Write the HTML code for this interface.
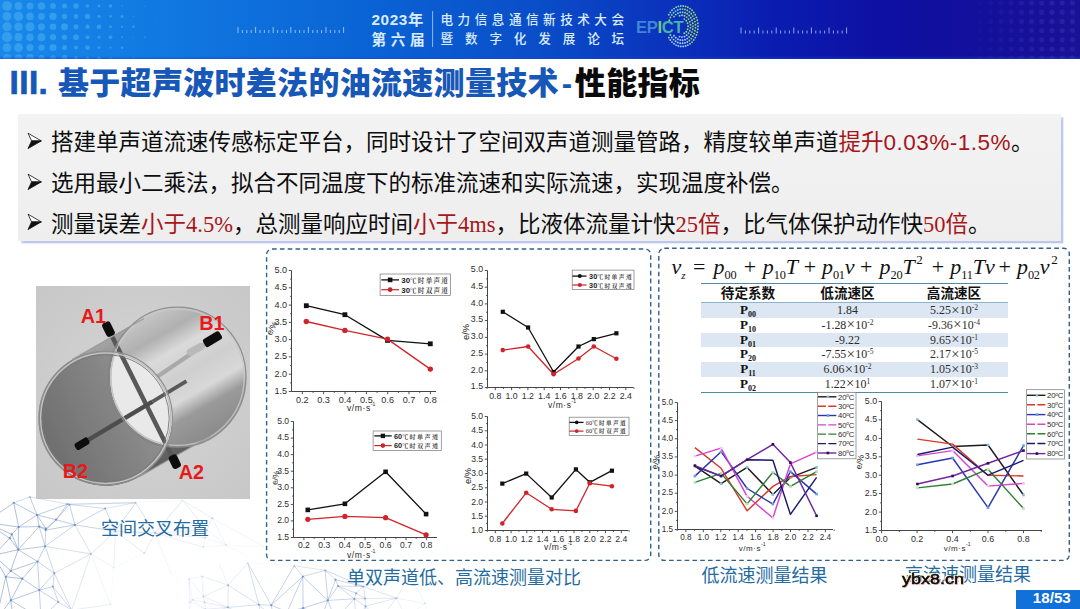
<!DOCTYPE html>
<html lang="zh-CN"><head><meta charset="utf-8"><title>III. 基于超声波时差法的油流速测量技术-性能指标</title>
<style>
html,body{margin:0;padding:0}
body{width:1080px;height:609px;overflow:hidden;background:#fff;position:relative;font-family:"Liberation Sans","Noto Sans CJK SC",sans-serif;color:#111}
.abs{position:absolute;white-space:nowrap}
#hdr{left:0;top:0;width:1080px;height:58.6px;background:linear-gradient(90deg,#1888ea 0,#1179e1 15%,#0a62d4 35%,#0a4dc8 50%,#0a32bc 62%,#0a1cb0 72%,#0e10a2 82%,#14109a 92%,#1a1294 100%)}
#hdr:after{content:"";position:absolute;left:0;right:0;bottom:0;height:3px;background:linear-gradient(180deg,rgba(20,60,200,0),rgba(20,70,210,.55))}
.ht{color:#d9ecff;font-weight:bold}
#title{left:9.5px;top:61.4px;font-size:31px;line-height:46px;font-weight:900;color:#1757b7;letter-spacing:0.3px}
#title u{text-decoration:none;letter-spacing:0.45px;font-size:33.3px;line-height:0;-webkit-text-stroke:0.7px #1757b7}
#title em{font-style:normal;display:inline-block;width:16px;text-align:center;letter-spacing:0}
#title b{color:#0a0a0a;font-weight:900}
#box{left:18px;top:114px;width:1043px;height:127px;background:linear-gradient(180deg,#f3f3f4,#eeeeef);box-shadow:2.5px 2.5px 1.5px #bcc6ee}
.ln{left:51px;font-size:22.5px;line-height:30px;color:#0d0d0d}
.ln u{text-decoration:none;letter-spacing:0.5px}
.ln i{font-style:normal;color:#a81519}
.ln .tr{font-family:"Liberation Serif","Noto Serif CJK SC",serif}
.cap{font-size:18px;line-height:22px;color:#256b9f;font-weight:400}
.dash{border:1.5px dashed #2d5a80;border-radius:6px;box-sizing:border-box}
table{border-collapse:collapse}
#tbl{left:701px;top:283px;width:307px;border-top:1.3px solid #4f8da6;border-bottom:1.3px solid #4f8da6}
#tbl th{font-size:13.6px;font-weight:bold;height:16px;line-height:16px;padding:2px 0 0 0;color:#111;border-bottom:1px solid #8db4cc}
#tbl td{font-family:"Liberation Serif","Noto Serif CJK SC",serif;font-size:11.9px;height:14.75px;line-height:14.75px;padding:0;text-align:center;color:#2b2b2b}
#tbl td.p{font-weight:bold;font-size:13px;color:#111}
#tbl td sub{font-size:8px;vertical-align:-3px;line-height:0}
#tbl td sup{font-size:7.5px;vertical-align:4px;line-height:0}
#tbl tr.s td{background:#dde7f3}
#tbl q{quotes:none;font-size:14.5px;line-height:0;padding:0 0.4px;position:relative;top:0.6px}
#tbl q:before,#tbl q:after{content:none}
#fm span{font-family:"Liberation Serif","Noto Serif CJK SC",serif;font-style:italic;font-size:22px;line-height:28px;color:#111}
#fm s{text-decoration:none;font-style:normal}
#fm sub{font-style:normal;font-size:12.3px;vertical-align:-4.5px;line-height:0;letter-spacing:-0.2px}
#fm sub.z{font-style:italic;font-size:11px}
#fm sup{font-style:normal;font-size:13px;vertical-align:10px;line-height:0;margin-left:1.6px}
</style></head><body>
<svg class="abs" style="left:0;top:0" width="1080" height="609" viewBox="0 0 1080 609"><g stroke="#7b97c4" stroke-width="0.75" fill="none"><path d="M113.9 567.8L110.6 604.5" stroke-opacity="0.06"/><path d="M113.9 567.8L115.3 531.2" stroke-opacity="0.21"/><path d="M113.9 567.8L144.4 553.2" stroke-opacity="0.07"/><path d="M113.9 567.8L90.9 553.9" stroke-opacity="0.14"/><path d="M248.4 555.5L226.3 545.2" stroke-opacity="0.05"/><path d="M129.7 571.4L144.4 553.2" stroke-opacity="0.04"/><path d="M37.6 561.5L39.3 590.1" stroke-opacity="0.63"/><path d="M37.6 561.5L22.3 578.7" stroke-opacity="0.69"/><path d="M37.6 561.5L18.2 549.7" stroke-opacity="0.71"/><path d="M37.6 561.5L45.1 546.3" stroke-opacity="0.61"/><path d="M37.6 561.5L10.7 570.8" stroke-opacity="0.74"/><path d="M37.6 561.5L54.3 573.2" stroke-opacity="0.57"/><path d="M11.8 534.4L-14.8 522.3" stroke-opacity="0.80"/><path d="M11.8 534.4L9.8 538.2" stroke-opacity="0.80"/><path d="M11.8 534.4L18.6 527" stroke-opacity="0.80"/><path d="M11.8 534.4L18.2 549.7" stroke-opacity="0.80"/><path d="M10.8 600.3L5.8 576.8" stroke-opacity="0.80"/><path d="M10.8 600.3L39.3 590.1" stroke-opacity="0.73"/><path d="M10.8 600.3L22.3 578.7" stroke-opacity="0.79"/><path d="M10.8 600.3L13.6 623.6" stroke-opacity="0.80"/><path d="M10.8 600.3L41 618.5" stroke-opacity="0.72"/><path d="M10.8 600.3L-4 620.1" stroke-opacity="0.80"/><path d="M182.6 500.4L135.6 502.7" stroke-opacity="0.09"/><path d="M182.6 500.4L206.9 530.1" stroke-opacity="0.25"/><path d="M182.6 500.4L212.2 518.1" stroke-opacity="0.22"/><path d="M182.6 500.4L155 533.1" stroke-opacity="0.33"/><path d="M171.4 575L203.4 547.1" stroke-opacity="0.04"/><path d="M171.4 575L155 533.1" stroke-opacity="0.11"/><path d="M29.9 497L67.4 504.1" stroke-opacity="0.39"/><path d="M29.9 497L13.8 502.8" stroke-opacity="0.45"/><path d="M29.9 497L37.1 515" stroke-opacity="0.61"/><path d="M135.6 502.7L115.3 531.2" stroke-opacity="0.46"/><path d="M135.6 502.7L67.4 504.1" stroke-opacity="0.32"/><path d="M135.6 502.7L69.5 504.5" stroke-opacity="0.33"/><path d="M135.6 502.7L105.1 508.5" stroke-opacity="0.34"/><path d="M135.6 502.7L155 533.1" stroke-opacity="0.40"/><path d="M39.2 526.5L18.6 527" stroke-opacity="0.75"/><path d="M39.2 526.5L18.2 549.7" stroke-opacity="0.70"/><path d="M39.2 526.5L45.7 530.1" stroke-opacity="0.71"/><path d="M39.2 526.5L45.1 546.3" stroke-opacity="0.60"/><path d="M39.2 526.5L45.8 528.6" stroke-opacity="0.71"/><path d="M39.2 526.5L37.1 515" stroke-opacity="0.72"/><path d="M-6.4 555.3L-14.8 522.3" stroke-opacity="0.80"/><path d="M-6.4 555.3L5.8 576.8" stroke-opacity="0.80"/><path d="M-6.4 555.3L9.8 538.2" stroke-opacity="0.80"/><path d="M-6.4 555.3L18.2 549.7" stroke-opacity="0.80"/><path d="M-6.4 555.3L10.7 570.8" stroke-opacity="0.80"/><path d="M-6.4 555.3L-4 620.1" stroke-opacity="0.80"/><path d="M110.6 604.5L71.7 610" stroke-opacity="0.23"/><path d="M110.6 604.5L90.9 553.9" stroke-opacity="0.15"/><path d="M115.3 531.2L74.9 524.9" stroke-opacity="0.55"/><path d="M115.3 531.2L144.4 553.2" stroke-opacity="0.28"/><path d="M115.3 531.2L90.9 553.9" stroke-opacity="0.33"/><path d="M115.3 531.2L105.1 508.5" stroke-opacity="0.51"/><path d="M115.3 531.2L155 533.1" stroke-opacity="0.38"/><path d="M74.9 524.9L45.7 530.1" stroke-opacity="0.66"/><path d="M74.9 524.9L45.1 546.3" stroke-opacity="0.53"/><path d="M74.9 524.9L69.5 504.5" stroke-opacity="0.62"/><path d="M74.9 524.9L90.9 553.9" stroke-opacity="0.41"/><path d="M74.9 524.9L56.1 519.7" stroke-opacity="0.64"/><path d="M74.9 524.9L105.1 508.5" stroke-opacity="0.57"/><path d="M67.4 504.1L69.5 504.5" stroke-opacity="0.45"/><path d="M67.4 504.1L37.1 515" stroke-opacity="0.67"/><path d="M67.4 504.1L56.1 519.7" stroke-opacity="0.65"/><path d="M203.4 547.1L226.3 545.2" stroke-opacity="0.10"/><path d="M203.4 547.1L205.2 537.8" stroke-opacity="0.14"/><path d="M203.4 547.1L155 533.1" stroke-opacity="0.20"/><path d="M226.3 545.2L244.4 556.1" stroke-opacity="0.05"/><path d="M226.3 545.2L264.4 546.7" stroke-opacity="0.05"/><path d="M226.3 545.2L206.9 530.1" stroke-opacity="0.14"/><path d="M226.3 545.2L212.2 518.1" stroke-opacity="0.16"/><path d="M226.3 545.2L205.2 537.8" stroke-opacity="0.12"/><path d="M-14.8 522.3L9.8 538.2" stroke-opacity="0.80"/><path d="M-14.8 522.3L18.6 527" stroke-opacity="0.80"/><path d="M-14.8 522.3L13.8 502.8" stroke-opacity="0.80"/><path d="M264.4 546.7L212.2 518.1" stroke-opacity="0.11"/><path d="M5.8 576.8L22.3 578.7" stroke-opacity="0.80"/><path d="M5.8 576.8L10.7 570.8" stroke-opacity="0.80"/><path d="M5.8 576.8L-4 620.1" stroke-opacity="0.80"/><path d="M206.9 530.1L212.2 518.1" stroke-opacity="0.21"/><path d="M206.9 530.1L205.2 537.8" stroke-opacity="0.18"/><path d="M206.9 530.1L155 533.1" stroke-opacity="0.27"/><path d="M9.8 538.2L18.2 549.7" stroke-opacity="0.80"/><path d="M18.6 527L13.8 502.8" stroke-opacity="0.80"/><path d="M18.6 527L18.2 549.7" stroke-opacity="0.78"/><path d="M18.6 527L37.1 515" stroke-opacity="0.76"/><path d="M13.8 502.8L37.1 515" stroke-opacity="0.73"/><path d="M144.4 553.2L155 533.1" stroke-opacity="0.23"/><path d="M39.3 590.1L22.3 578.7" stroke-opacity="0.69"/><path d="M39.3 590.1L54.3 573.2" stroke-opacity="0.56"/><path d="M39.3 590.1L41 618.5" stroke-opacity="0.61"/><path d="M39.3 590.1L52.9 586.6" stroke-opacity="0.57"/><path d="M39.3 590.1L58.2 602.1" stroke-opacity="0.55"/><path d="M22.3 578.7L10.7 570.8" stroke-opacity="0.79"/><path d="M18.2 549.7L45.1 546.3" stroke-opacity="0.68"/><path d="M18.2 549.7L10.7 570.8" stroke-opacity="0.80"/><path d="M45.7 530.1L45.1 546.3" stroke-opacity="0.57"/><path d="M45.7 530.1L45.8 528.6" stroke-opacity="0.68"/><path d="M45.7 530.1L56.1 519.7" stroke-opacity="0.69"/><path d="M71.7 610L54.3 573.2" stroke-opacity="0.44"/><path d="M71.7 610L90.9 553.9" stroke-opacity="0.30"/><path d="M71.7 610L41 618.5" stroke-opacity="0.49"/><path d="M71.7 610L52.9 586.6" stroke-opacity="0.45"/><path d="M71.7 610L58.2 602.1" stroke-opacity="0.43"/><path d="M45.1 546.3L54.3 573.2" stroke-opacity="0.54"/><path d="M45.1 546.3L90.9 553.9" stroke-opacity="0.40"/><path d="M13.6 623.6L41 618.5" stroke-opacity="0.71"/><path d="M13.6 623.6L-4 620.1" stroke-opacity="0.80"/><path d="M45.8 528.6L37.1 515" stroke-opacity="0.71"/><path d="M45.8 528.6L56.1 519.7" stroke-opacity="0.69"/><path d="M205.2 537.8L155 533.1" stroke-opacity="0.24"/><path d="M69.5 504.5L56.1 519.7" stroke-opacity="0.65"/><path d="M69.5 504.5L105.1 508.5" stroke-opacity="0.47"/><path d="M54.3 573.2L90.9 553.9" stroke-opacity="0.37"/><path d="M54.3 573.2L52.9 586.6" stroke-opacity="0.51"/><path d="M37.1 515L56.1 519.7" stroke-opacity="0.70"/><path d="M41 618.5L58.2 602.1" stroke-opacity="0.54"/><path d="M52.9 586.6L58.2 602.1" stroke-opacity="0.50"/><circle cx="113.9" cy="567.8" r="1.1" fill="#5f86c0" fill-opacity="0.07" stroke="none"/><circle cx="37.6" cy="561.5" r="1.1" fill="#5f86c0" fill-opacity="0.82" stroke="none"/><circle cx="11.8" cy="534.4" r="1.1" fill="#5f86c0" fill-opacity="0.90" stroke="none"/><circle cx="10.8" cy="600.3" r="1.1" fill="#5f86c0" fill-opacity="0.90" stroke="none"/><circle cx="29.9" cy="497" r="1.1" fill="#5f86c0" fill-opacity="0.43" stroke="none"/><circle cx="135.6" cy="502.7" r="1.1" fill="#5f86c0" fill-opacity="0.26" stroke="none"/><circle cx="39.2" cy="526.5" r="1.1" fill="#5f86c0" fill-opacity="0.90" stroke="none"/><circle cx="-6.4" cy="555.3" r="1.1" fill="#5f86c0" fill-opacity="0.90" stroke="none"/><circle cx="110.6" cy="604.5" r="1.1" fill="#5f86c0" fill-opacity="0.10" stroke="none"/><circle cx="115.3" cy="531.2" r="1.1" fill="#5f86c0" fill-opacity="0.59" stroke="none"/><circle cx="74.9" cy="524.9" r="1.1" fill="#5f86c0" fill-opacity="0.80" stroke="none"/><circle cx="67.4" cy="504.1" r="1.1" fill="#5f86c0" fill-opacity="0.58" stroke="none"/><circle cx="203.4" cy="547.1" r="1.1" fill="#5f86c0" fill-opacity="0.15" stroke="none"/><circle cx="226.3" cy="545.2" r="1.1" fill="#5f86c0" fill-opacity="0.11" stroke="none"/><circle cx="-14.8" cy="522.3" r="1.1" fill="#5f86c0" fill-opacity="0.90" stroke="none"/><circle cx="5.8" cy="576.8" r="1.1" fill="#5f86c0" fill-opacity="0.90" stroke="none"/><circle cx="206.9" cy="530.1" r="1.1" fill="#5f86c0" fill-opacity="0.26" stroke="none"/><circle cx="9.8" cy="538.2" r="1.1" fill="#5f86c0" fill-opacity="0.90" stroke="none"/><circle cx="18.6" cy="527" r="1.1" fill="#5f86c0" fill-opacity="0.90" stroke="none"/><circle cx="13.8" cy="502.8" r="1.1" fill="#5f86c0" fill-opacity="0.76" stroke="none"/><circle cx="212.2" cy="518.1" r="1.1" fill="#5f86c0" fill-opacity="0.26" stroke="none"/><circle cx="144.4" cy="553.2" r="1.1" fill="#5f86c0" fill-opacity="0.18" stroke="none"/><circle cx="39.3" cy="590.1" r="1.1" fill="#5f86c0" fill-opacity="0.81" stroke="none"/><circle cx="22.3" cy="578.7" r="1.1" fill="#5f86c0" fill-opacity="0.90" stroke="none"/><circle cx="18.2" cy="549.7" r="1.1" fill="#5f86c0" fill-opacity="0.90" stroke="none"/><circle cx="45.7" cy="530.1" r="1.1" fill="#5f86c0" fill-opacity="0.86" stroke="none"/><circle cx="71.7" cy="610" r="1.1" fill="#5f86c0" fill-opacity="0.49" stroke="none"/><circle cx="45.1" cy="546.3" r="1.1" fill="#5f86c0" fill-opacity="0.75" stroke="none"/><circle cx="13.6" cy="623.6" r="1.1" fill="#5f86c0" fill-opacity="0.90" stroke="none"/><circle cx="45.8" cy="528.6" r="1.1" fill="#5f86c0" fill-opacity="0.90" stroke="none"/><circle cx="205.2" cy="537.8" r="1.1" fill="#5f86c0" fill-opacity="0.21" stroke="none"/><circle cx="69.5" cy="504.5" r="1.1" fill="#5f86c0" fill-opacity="0.59" stroke="none"/><circle cx="10.7" cy="570.8" r="1.1" fill="#5f86c0" fill-opacity="0.90" stroke="none"/><circle cx="54.3" cy="573.2" r="1.1" fill="#5f86c0" fill-opacity="0.66" stroke="none"/><circle cx="90.9" cy="553.9" r="1.1" fill="#5f86c0" fill-opacity="0.30" stroke="none"/><circle cx="37.1" cy="515" r="1.1" fill="#5f86c0" fill-opacity="0.90" stroke="none"/><circle cx="56.1" cy="519.7" r="1.1" fill="#5f86c0" fill-opacity="0.87" stroke="none"/><circle cx="41" cy="618.5" r="1.1" fill="#5f86c0" fill-opacity="0.79" stroke="none"/><circle cx="105.1" cy="508.5" r="1.1" fill="#5f86c0" fill-opacity="0.62" stroke="none"/><circle cx="-4" cy="620.1" r="1.1" fill="#5f86c0" fill-opacity="0.90" stroke="none"/><circle cx="52.9" cy="586.6" r="1.1" fill="#5f86c0" fill-opacity="0.67" stroke="none"/><circle cx="58.2" cy="602.1" r="1.1" fill="#5f86c0" fill-opacity="0.62" stroke="none"/><circle cx="155" cy="533.1" r="1.1" fill="#5f86c0" fill-opacity="0.42" stroke="none"/><path d="M228 607.4L228.2 585.2" stroke-opacity="0.31"/><path d="M228 607.4L189.4 619.3" stroke-opacity="0.21"/><path d="M228 607.4L263.1 625" stroke-opacity="0.39"/><path d="M228 607.4L203.4 596.4" stroke-opacity="0.24"/><path d="M228 607.4L204.6 602.3" stroke-opacity="0.25"/><path d="M228 607.4L205.5 609.3" stroke-opacity="0.25"/><path d="M228 607.4L258.8 604.7" stroke-opacity="0.38"/><path d="M201.9 576.4L189.1 579" stroke-opacity="0.13"/><path d="M201.9 576.4L228.2 585.2" stroke-opacity="0.24"/><path d="M201.9 576.4L203.4 596.4" stroke-opacity="0.18"/><path d="M322 615.7L303.1 608" stroke-opacity="0.60"/><path d="M322 615.7L327.8 600.4" stroke-opacity="0.59"/><path d="M322 615.7L292.9 614.8" stroke-opacity="0.60"/><path d="M322 615.7L335.6 620" stroke-opacity="0.57"/><path d="M335.5 579.7L325.2 570.3" stroke-opacity="0.46"/><path d="M335.5 579.7L338.1 586.1" stroke-opacity="0.53"/><path d="M335.5 579.7L327.8 600.4" stroke-opacity="0.56"/><path d="M335.5 579.7L363.4 586.5" stroke-opacity="0.47"/><path d="M409.8 574.9L425.2 603.4" stroke-opacity="0.13"/><path d="M409.8 574.9L396.6 598.1" stroke-opacity="0.20"/><path d="M409.8 574.9L363.4 586.5" stroke-opacity="0.28"/><path d="M189.1 579L189.4 619.3" stroke-opacity="0.11"/><path d="M189.1 579L190.2 602.1" stroke-opacity="0.11"/><path d="M189.1 579L203.4 596.4" stroke-opacity="0.15"/><path d="M189.1 579L192.3 599.9" stroke-opacity="0.12"/><path d="M294.2 565.8L325.2 570.3" stroke-opacity="0.33"/><path d="M294.2 565.8L271.2 605.2" stroke-opacity="0.58"/><path d="M294.2 565.8L302.8 576.5" stroke-opacity="0.43"/><path d="M294.2 565.8L247.7 562.7" stroke-opacity="0.06"/><path d="M228.2 585.2L219.4 564.2" stroke-opacity="0.17"/><path d="M228.2 585.2L203.4 596.4" stroke-opacity="0.24"/><path d="M228.2 585.2L247.7 562.7" stroke-opacity="0.22"/><path d="M228.2 585.2L258.8 604.7" stroke-opacity="0.38"/><path d="M325.2 570.3L327.8 600.4" stroke-opacity="0.58"/><path d="M325.2 570.3L363.4 586.5" stroke-opacity="0.49"/><path d="M325.2 570.3L302.8 576.5" stroke-opacity="0.49"/><path d="M273.7 618.1L263.1 625" stroke-opacity="0.51"/><path d="M273.7 618.1L271.2 605.2" stroke-opacity="0.53"/><path d="M273.7 618.1L287.2 611.8" stroke-opacity="0.57"/><path d="M273.7 618.1L292.9 614.8" stroke-opacity="0.58"/><path d="M273.7 618.1L258.8 604.7" stroke-opacity="0.50"/><path d="M425.2 603.4L405.7 616.9" stroke-opacity="0.14"/><path d="M425.2 603.4L396.6 598.1" stroke-opacity="0.16"/><path d="M425.2 603.4L428.4 617.4" stroke-opacity="0.08"/><path d="M354.3 598.8L356.7 622.7" stroke-opacity="0.44"/><path d="M354.3 598.8L365.6 606.3" stroke-opacity="0.42"/><path d="M354.3 598.8L338.1 586.1" stroke-opacity="0.48"/><path d="M354.3 598.8L327.8 600.4" stroke-opacity="0.51"/><path d="M354.3 598.8L365.1 598.6" stroke-opacity="0.42"/><path d="M354.3 598.8L356.1 593.3" stroke-opacity="0.44"/><path d="M354.3 598.8L335.6 620" stroke-opacity="0.49"/><path d="M189.4 619.3L190.2 602.1" stroke-opacity="0.11"/><path d="M189.4 619.3L205.5 609.3" stroke-opacity="0.15"/><path d="M356.7 622.7L365.6 618.7" stroke-opacity="0.41"/><path d="M356.7 622.7L365.6 606.3" stroke-opacity="0.41"/><path d="M356.7 622.7L379.4 619.6" stroke-opacity="0.37"/><path d="M356.7 622.7L335.6 620" stroke-opacity="0.48"/><path d="M190.2 602.1L205.5 609.3" stroke-opacity="0.15"/><path d="M190.2 602.1L192.3 599.9" stroke-opacity="0.12"/><path d="M303.1 608L287.2 611.8" stroke-opacity="0.60"/><path d="M303.1 608L327.8 600.4" stroke-opacity="0.60"/><path d="M303.1 608L292.9 614.8" stroke-opacity="0.60"/><path d="M303.1 608L302.8 576.5" stroke-opacity="0.60"/><path d="M263.1 625L292.9 614.8" stroke-opacity="0.56"/><path d="M263.1 625L258.8 604.7" stroke-opacity="0.47"/><path d="M203.4 596.4L204.6 602.3" stroke-opacity="0.19"/><path d="M203.4 596.4L192.3 599.9" stroke-opacity="0.15"/><path d="M365.6 618.7L365.6 606.3" stroke-opacity="0.39"/><path d="M365.6 618.7L379.4 619.6" stroke-opacity="0.35"/><path d="M365.6 606.3L379.4 619.6" stroke-opacity="0.35"/><path d="M365.6 606.3L396.6 598.1" stroke-opacity="0.31"/><path d="M365.6 606.3L365.1 598.6" stroke-opacity="0.39"/><path d="M379.4 619.6L405.7 616.9" stroke-opacity="0.25"/><path d="M379.4 619.6L396.6 598.1" stroke-opacity="0.28"/><path d="M379.4 619.6L428.4 617.4" stroke-opacity="0.20"/><path d="M271.2 605.2L287.2 611.8" stroke-opacity="0.56"/><path d="M271.2 605.2L302.8 576.5" stroke-opacity="0.60"/><path d="M271.2 605.2L247.7 562.7" stroke-opacity="0.46"/><path d="M271.2 605.2L258.8 604.7" stroke-opacity="0.49"/><path d="M405.7 616.9L396.6 598.1" stroke-opacity="0.21"/><path d="M405.7 616.9L428.4 617.4" stroke-opacity="0.13"/><path d="M287.2 611.8L292.9 614.8" stroke-opacity="0.60"/><path d="M287.2 611.8L302.8 576.5" stroke-opacity="0.60"/><path d="M396.6 598.1L363.4 586.5" stroke-opacity="0.32"/><path d="M396.6 598.1L365.1 598.6" stroke-opacity="0.31"/><path d="M338.1 586.1L327.8 600.4" stroke-opacity="0.55"/><path d="M338.1 586.1L363.4 586.5" stroke-opacity="0.46"/><path d="M338.1 586.1L356.1 593.3" stroke-opacity="0.48"/><path d="M327.8 600.4L302.8 576.5" stroke-opacity="0.60"/><path d="M327.8 600.4L335.6 620" stroke-opacity="0.56"/><path d="M204.6 602.3L205.5 609.3" stroke-opacity="0.19"/><path d="M204.6 602.3L192.3 599.9" stroke-opacity="0.16"/><path d="M363.4 586.5L365.1 598.6" stroke-opacity="0.39"/><path d="M363.4 586.5L356.1 593.3" stroke-opacity="0.42"/><path d="M365.1 598.6L356.1 593.3" stroke-opacity="0.41"/><path d="M292.9 614.8L335.6 620" stroke-opacity="0.60"/><path d="M205.5 609.3L192.3 599.9" stroke-opacity="0.16"/><path d="M247.7 562.7L258.8 604.7" stroke-opacity="0.43"/><circle cx="228" cy="607.4" r="1.1" fill="#5f86c0" fill-opacity="0.40" stroke="none"/><circle cx="201.9" cy="576.4" r="1.1" fill="#5f86c0" fill-opacity="0.16" stroke="none"/><circle cx="322" cy="615.7" r="1.1" fill="#5f86c0" fill-opacity="0.78" stroke="none"/><circle cx="335.5" cy="579.7" r="1.1" fill="#5f86c0" fill-opacity="0.70" stroke="none"/><circle cx="409.8" cy="574.9" r="1.1" fill="#5f86c0" fill-opacity="0.08" stroke="none"/><circle cx="189.1" cy="579" r="1.1" fill="#5f86c0" fill-opacity="0.14" stroke="none"/><circle cx="294.2" cy="565.8" r="1.1" fill="#5f86c0" fill-opacity="0.30" stroke="none"/><circle cx="228.2" cy="585.2" r="1.1" fill="#5f86c0" fill-opacity="0.40" stroke="none"/><circle cx="325.2" cy="570.3" r="1.1" fill="#5f86c0" fill-opacity="0.43" stroke="none"/><circle cx="273.7" cy="618.1" r="1.1" fill="#5f86c0" fill-opacity="0.69" stroke="none"/><circle cx="425.2" cy="603.4" r="1.1" fill="#5f86c0" fill-opacity="0.12" stroke="none"/><circle cx="354.3" cy="598.8" r="1.1" fill="#5f86c0" fill-opacity="0.58" stroke="none"/><circle cx="189.4" cy="619.3" r="1.1" fill="#5f86c0" fill-opacity="0.15" stroke="none"/><circle cx="356.7" cy="622.7" r="1.1" fill="#5f86c0" fill-opacity="0.56" stroke="none"/><circle cx="190.2" cy="602.1" r="1.1" fill="#5f86c0" fill-opacity="0.15" stroke="none"/><circle cx="303.1" cy="608" r="1.1" fill="#5f86c0" fill-opacity="0.78" stroke="none"/><circle cx="263.1" cy="625" r="1.1" fill="#5f86c0" fill-opacity="0.62" stroke="none"/><circle cx="203.4" cy="596.4" r="1.1" fill="#5f86c0" fill-opacity="0.24" stroke="none"/><circle cx="365.6" cy="618.7" r="1.1" fill="#5f86c0" fill-opacity="0.50" stroke="none"/><circle cx="365.6" cy="606.3" r="1.1" fill="#5f86c0" fill-opacity="0.50" stroke="none"/><circle cx="379.4" cy="619.6" r="1.1" fill="#5f86c0" fill-opacity="0.41" stroke="none"/><circle cx="271.2" cy="605.2" r="1.1" fill="#5f86c0" fill-opacity="0.68" stroke="none"/><circle cx="405.7" cy="616.9" r="1.1" fill="#5f86c0" fill-opacity="0.24" stroke="none"/><circle cx="287.2" cy="611.8" r="1.1" fill="#5f86c0" fill-opacity="0.78" stroke="none"/><circle cx="396.6" cy="598.1" r="1.1" fill="#5f86c0" fill-opacity="0.30" stroke="none"/><circle cx="338.1" cy="586.1" r="1.1" fill="#5f86c0" fill-opacity="0.68" stroke="none"/><circle cx="327.8" cy="600.4" r="1.1" fill="#5f86c0" fill-opacity="0.75" stroke="none"/><circle cx="204.6" cy="602.3" r="1.1" fill="#5f86c0" fill-opacity="0.24" stroke="none"/><circle cx="428.4" cy="617.4" r="1.1" fill="#5f86c0" fill-opacity="0.10" stroke="none"/><circle cx="363.4" cy="586.5" r="1.1" fill="#5f86c0" fill-opacity="0.52" stroke="none"/><circle cx="365.1" cy="598.6" r="1.1" fill="#5f86c0" fill-opacity="0.51" stroke="none"/><circle cx="292.9" cy="614.8" r="1.1" fill="#5f86c0" fill-opacity="0.78" stroke="none"/><circle cx="205.5" cy="609.3" r="1.1" fill="#5f86c0" fill-opacity="0.25" stroke="none"/><circle cx="192.3" cy="599.9" r="1.1" fill="#5f86c0" fill-opacity="0.16" stroke="none"/><circle cx="302.8" cy="576.5" r="1.1" fill="#5f86c0" fill-opacity="0.78" stroke="none"/><circle cx="356.1" cy="593.3" r="1.1" fill="#5f86c0" fill-opacity="0.56" stroke="none"/><circle cx="335.6" cy="620" r="1.1" fill="#5f86c0" fill-opacity="0.70" stroke="none"/><circle cx="258.8" cy="604.7" r="1.1" fill="#5f86c0" fill-opacity="0.60" stroke="none"/></g></svg>
<div id="hdr" class="abs">
<svg class="abs" style="left:0;top:0" width="1080" height="59" viewBox="0 0 1080 59">
<g fill="#3fa4ee" fill-opacity="0.75"><circle cx="7" cy="6" r="4.9"/><circle cx="18.5" cy="6" r="3.9"/><circle cx="30" cy="6" r="3.6"/><circle cx="41.5" cy="6" r="3.8"/><circle cx="53" cy="6" r="2.9"/><circle cx="64.5" cy="6" r="2.5"/><circle cx="76" cy="6" r="2.7"/><circle cx="87.5" cy="6" r="1.8"/><circle cx="99" cy="6" r="1.4"/><circle cx="110.5" cy="6" r="1.7"/><circle cx="122" cy="6" r="0.7"/><circle cx="145" cy="6" r="0.6"/><circle cx="7" cy="16.4" r="4.5"/><circle cx="18.5" cy="16.4" r="4.7"/><circle cx="30" cy="16.4" r="3.8"/><circle cx="41.5" cy="16.4" r="3.4"/><circle cx="53" cy="16.4" r="3.7"/><circle cx="64.5" cy="16.4" r="2.7"/><circle cx="76" cy="16.4" r="2.3"/><circle cx="87.5" cy="16.4" r="2.6"/><circle cx="99" cy="16.4" r="1.6"/><circle cx="110.5" cy="16.4" r="1.3"/><circle cx="122" cy="16.4" r="1.5"/><circle cx="133.5" cy="16.4" r="0.5"/><circle cx="156.5" cy="16.4" r="0.4"/><circle cx="7" cy="26.8" r="4.7"/><circle cx="18.5" cy="26.8" r="4.3"/><circle cx="30" cy="26.8" r="4.6"/><circle cx="41.5" cy="26.8" r="3.6"/><circle cx="53" cy="26.8" r="3.3"/><circle cx="64.5" cy="26.8" r="3.5"/><circle cx="76" cy="26.8" r="2.5"/><circle cx="87.5" cy="26.8" r="2.2"/><circle cx="99" cy="26.8" r="2.4"/><circle cx="110.5" cy="26.8" r="1.5"/><circle cx="122" cy="26.8" r="1.1"/><circle cx="133.5" cy="26.8" r="1.3"/><circle cx="7" cy="37.2" r="5.1"/><circle cx="18.5" cy="37.2" r="4.1"/><circle cx="30" cy="37.2" r="3.8"/><circle cx="41.5" cy="37.2" r="4"/><circle cx="53" cy="37.2" r="3.1"/><circle cx="64.5" cy="37.2" r="2.7"/><circle cx="76" cy="37.2" r="2.9"/><circle cx="87.5" cy="37.2" r="2"/><circle cx="99" cy="37.2" r="1.6"/><circle cx="110.5" cy="37.2" r="1.9"/><circle cx="122" cy="37.2" r="0.9"/><circle cx="133.5" cy="37.2" r="0.5"/><circle cx="145" cy="37.2" r="0.8"/><circle cx="7" cy="47.6" r="4.3"/><circle cx="18.5" cy="47.6" r="4.5"/><circle cx="30" cy="47.6" r="3.6"/><circle cx="41.5" cy="47.6" r="3.2"/><circle cx="53" cy="47.6" r="3.5"/><circle cx="64.5" cy="47.6" r="2.5"/><circle cx="76" cy="47.6" r="2.1"/><circle cx="87.5" cy="47.6" r="2.4"/><circle cx="99" cy="47.6" r="1.4"/><circle cx="110.5" cy="47.6" r="1.1"/><circle cx="122" cy="47.6" r="1.3"/><circle cx="7" cy="58" r="4.1"/><circle cx="18.5" cy="58" r="3.7"/><circle cx="30" cy="58" r="4"/><circle cx="41.5" cy="58" r="3"/><circle cx="53" cy="58" r="2.7"/><circle cx="64.5" cy="58" r="2.9"/><circle cx="76" cy="58" r="1.9"/><circle cx="87.5" cy="58" r="1.6"/><circle cx="99" cy="58" r="1.8"/><circle cx="110.5" cy="58" r="0.9"/><circle cx="122" cy="58" r="0.5"/><circle cx="133.5" cy="58" r="0.7"/></g><g fill="#3a34c8"><circle cx="950" cy="3" r="2.6" fill-opacity="0.00"/><circle cx="960.2" cy="3" r="2.6" fill-opacity="0.00"/><circle cx="970.4" cy="3" r="2.6" fill-opacity="0.04"/><circle cx="980.6" cy="3" r="2.6" fill-opacity="0.09"/><circle cx="990.8" cy="3" r="2.6" fill-opacity="0.14"/><circle cx="1001" cy="3" r="2.6" fill-opacity="0.18"/><circle cx="1011.2" cy="3" r="2.6" fill-opacity="0.22"/><circle cx="1021.4" cy="3" r="2.6" fill-opacity="0.27"/><circle cx="1031.6" cy="3" r="2.6" fill-opacity="0.32"/><circle cx="1041.8" cy="3" r="2.6" fill-opacity="0.36"/><circle cx="1052" cy="3" r="2.6" fill-opacity="0.40"/><circle cx="1062.2" cy="3" r="2.6" fill-opacity="0.40"/><circle cx="1072.4" cy="3" r="2.6" fill-opacity="0.40"/><circle cx="1082.6" cy="3" r="2.6" fill-opacity="0.40"/><circle cx="950" cy="12.2" r="2.6" fill-opacity="0.00"/><circle cx="960.2" cy="12.2" r="2.6" fill-opacity="0.00"/><circle cx="970.4" cy="12.2" r="2.6" fill-opacity="0.04"/><circle cx="980.6" cy="12.2" r="2.6" fill-opacity="0.09"/><circle cx="990.8" cy="12.2" r="2.6" fill-opacity="0.14"/><circle cx="1001" cy="12.2" r="2.6" fill-opacity="0.18"/><circle cx="1011.2" cy="12.2" r="2.6" fill-opacity="0.22"/><circle cx="1021.4" cy="12.2" r="2.6" fill-opacity="0.27"/><circle cx="1031.6" cy="12.2" r="2.6" fill-opacity="0.32"/><circle cx="1041.8" cy="12.2" r="2.6" fill-opacity="0.36"/><circle cx="1052" cy="12.2" r="2.6" fill-opacity="0.40"/><circle cx="1062.2" cy="12.2" r="2.6" fill-opacity="0.40"/><circle cx="1072.4" cy="12.2" r="2.6" fill-opacity="0.40"/><circle cx="1082.6" cy="12.2" r="2.6" fill-opacity="0.40"/><circle cx="950" cy="21.4" r="2.6" fill-opacity="0.00"/><circle cx="960.2" cy="21.4" r="2.6" fill-opacity="0.00"/><circle cx="970.4" cy="21.4" r="2.6" fill-opacity="0.04"/><circle cx="980.6" cy="21.4" r="2.6" fill-opacity="0.09"/><circle cx="990.8" cy="21.4" r="2.6" fill-opacity="0.14"/><circle cx="1001" cy="21.4" r="2.6" fill-opacity="0.18"/><circle cx="1011.2" cy="21.4" r="2.6" fill-opacity="0.22"/><circle cx="1021.4" cy="21.4" r="2.6" fill-opacity="0.27"/><circle cx="1031.6" cy="21.4" r="2.6" fill-opacity="0.32"/><circle cx="1041.8" cy="21.4" r="2.6" fill-opacity="0.36"/><circle cx="1052" cy="21.4" r="2.6" fill-opacity="0.40"/><circle cx="1062.2" cy="21.4" r="2.6" fill-opacity="0.40"/><circle cx="1072.4" cy="21.4" r="2.6" fill-opacity="0.40"/><circle cx="1082.6" cy="21.4" r="2.6" fill-opacity="0.40"/><circle cx="950" cy="30.6" r="2.6" fill-opacity="0.00"/><circle cx="960.2" cy="30.6" r="2.6" fill-opacity="0.00"/><circle cx="970.4" cy="30.6" r="2.6" fill-opacity="0.04"/><circle cx="980.6" cy="30.6" r="2.6" fill-opacity="0.09"/><circle cx="990.8" cy="30.6" r="2.6" fill-opacity="0.14"/><circle cx="1001" cy="30.6" r="2.6" fill-opacity="0.18"/><circle cx="1011.2" cy="30.6" r="2.6" fill-opacity="0.22"/><circle cx="1021.4" cy="30.6" r="2.6" fill-opacity="0.27"/><circle cx="1031.6" cy="30.6" r="2.6" fill-opacity="0.32"/><circle cx="1041.8" cy="30.6" r="2.6" fill-opacity="0.36"/><circle cx="1052" cy="30.6" r="2.6" fill-opacity="0.40"/><circle cx="1062.2" cy="30.6" r="2.6" fill-opacity="0.40"/><circle cx="1072.4" cy="30.6" r="2.6" fill-opacity="0.40"/><circle cx="1082.6" cy="30.6" r="2.6" fill-opacity="0.40"/><circle cx="950" cy="39.8" r="2.6" fill-opacity="0.00"/><circle cx="960.2" cy="39.8" r="2.6" fill-opacity="0.00"/><circle cx="970.4" cy="39.8" r="2.6" fill-opacity="0.04"/><circle cx="980.6" cy="39.8" r="2.6" fill-opacity="0.09"/><circle cx="990.8" cy="39.8" r="2.6" fill-opacity="0.14"/><circle cx="1001" cy="39.8" r="2.6" fill-opacity="0.18"/><circle cx="1011.2" cy="39.8" r="2.6" fill-opacity="0.22"/><circle cx="1021.4" cy="39.8" r="2.6" fill-opacity="0.27"/><circle cx="1031.6" cy="39.8" r="2.6" fill-opacity="0.32"/><circle cx="1041.8" cy="39.8" r="2.6" fill-opacity="0.36"/><circle cx="1052" cy="39.8" r="2.6" fill-opacity="0.40"/><circle cx="1062.2" cy="39.8" r="2.6" fill-opacity="0.40"/><circle cx="1072.4" cy="39.8" r="2.6" fill-opacity="0.40"/><circle cx="1082.6" cy="39.8" r="2.6" fill-opacity="0.40"/><circle cx="950" cy="49" r="2.6" fill-opacity="0.00"/><circle cx="960.2" cy="49" r="2.6" fill-opacity="0.00"/><circle cx="970.4" cy="49" r="2.6" fill-opacity="0.04"/><circle cx="980.6" cy="49" r="2.6" fill-opacity="0.09"/><circle cx="990.8" cy="49" r="2.6" fill-opacity="0.14"/><circle cx="1001" cy="49" r="2.6" fill-opacity="0.18"/><circle cx="1011.2" cy="49" r="2.6" fill-opacity="0.22"/><circle cx="1021.4" cy="49" r="2.6" fill-opacity="0.27"/><circle cx="1031.6" cy="49" r="2.6" fill-opacity="0.32"/><circle cx="1041.8" cy="49" r="2.6" fill-opacity="0.36"/><circle cx="1052" cy="49" r="2.6" fill-opacity="0.40"/><circle cx="1062.2" cy="49" r="2.6" fill-opacity="0.40"/><circle cx="1072.4" cy="49" r="2.6" fill-opacity="0.40"/><circle cx="1082.6" cy="49" r="2.6" fill-opacity="0.40"/><circle cx="950" cy="58.2" r="2.6" fill-opacity="0.00"/><circle cx="960.2" cy="58.2" r="2.6" fill-opacity="0.00"/><circle cx="970.4" cy="58.2" r="2.6" fill-opacity="0.04"/><circle cx="980.6" cy="58.2" r="2.6" fill-opacity="0.09"/><circle cx="990.8" cy="58.2" r="2.6" fill-opacity="0.14"/><circle cx="1001" cy="58.2" r="2.6" fill-opacity="0.18"/><circle cx="1011.2" cy="58.2" r="2.6" fill-opacity="0.22"/><circle cx="1021.4" cy="58.2" r="2.6" fill-opacity="0.27"/><circle cx="1031.6" cy="58.2" r="2.6" fill-opacity="0.32"/><circle cx="1041.8" cy="58.2" r="2.6" fill-opacity="0.36"/><circle cx="1052" cy="58.2" r="2.6" fill-opacity="0.40"/><circle cx="1062.2" cy="58.2" r="2.6" fill-opacity="0.40"/><circle cx="1072.4" cy="58.2" r="2.6" fill-opacity="0.40"/><circle cx="1082.6" cy="58.2" r="2.6" fill-opacity="0.40"/></g><path d="M238 27v6M242.4 30v3M246.8 30v3M251.2 30v3M255.6 27v6M260 30v3M264.4 30v3M268.8 30v3M273.2 27v6M277.6 30v3M282 30v3M286.4 30v3M290.8 27v6M295.2 30v3M299.6 30v3M304 30v3M308.4 27v6M312.8 30v3M317.2 30v3M321.6 30v3M326 27v6M330.4 30v3M334.8 30v3M339.2 30v3M343.6 27v6" stroke="#cfe6ff" stroke-opacity="0.75" stroke-width="0.9"/><path d="M741 27.5v6M745.4 30.5v3M749.8 30.5v3M754.2 30.5v3M758.6 27.5v6M763 30.5v3M767.4 30.5v3M771.8 30.5v3M776.2 27.5v6M780.6 30.5v3M785 30.5v3M789.4 30.5v3M793.8 27.5v6M798.2 30.5v3M802.6 30.5v3M807 30.5v3M811.4 27.5v6M815.8 30.5v3M820.2 30.5v3M824.6 30.5v3M829 27.5v6M833.4 30.5v3M837.8 30.5v3M842.2 30.5v3M846.6 27.5v6" stroke="#cfe6ff" stroke-opacity="0.75" stroke-width="0.9"/>
<path d="M432.6 11V47" stroke="#9cc6f2" stroke-width="0.9"/>
<circle cx="698" cy="26.2" r="0.95" fill="#98d46c"/><circle cx="697.8" cy="29.2" r="0.95" fill="#98d46c"/><circle cx="697.3" cy="32.2" r="0.95" fill="#98d46c"/><circle cx="696.4" cy="35" r="0.95" fill="#98d46c"/><circle cx="695.2" cy="37.6" r="0.95" fill="#98d46c"/><circle cx="693.7" cy="40" r="0.95" fill="#98d46c"/><circle cx="692" cy="42.1" r="0.95" fill="#98d46c"/><circle cx="690" cy="43.8" r="0.95" fill="#98d46c"/><circle cx="687.8" cy="45.1" r="0.95" fill="#a9cdf2"/><circle cx="685.6" cy="46" r="0.95" fill="#a9cdf2"/><circle cx="683.2" cy="46.4" r="0.95" fill="#a9cdf2"/><circle cx="680.8" cy="46.4" r="0.95" fill="#a9cdf2"/><circle cx="678.4" cy="46" r="0.95" fill="#a9cdf2"/><circle cx="676.2" cy="45.1" r="0.95" fill="#a9cdf2"/><circle cx="674" cy="43.8" r="0.95" fill="#a9cdf2"/><circle cx="672" cy="42.1" r="0.95" fill="#a9cdf2"/><circle cx="670.3" cy="40" r="0.95" fill="#a9cdf2"/><circle cx="668.8" cy="37.6" r="0.95" fill="#a9cdf2"/><circle cx="668.8" cy="14.8" r="0.95" fill="#7fcfb4"/><circle cx="670.3" cy="12.4" r="0.95" fill="#7fcfb4"/><circle cx="672" cy="10.3" r="0.95" fill="#7fcfb4"/><circle cx="674" cy="8.6" r="0.95" fill="#7fcfb4"/><circle cx="676.2" cy="7.3" r="0.95" fill="#7fcfb4"/><circle cx="678.4" cy="6.4" r="0.95" fill="#7fcfb4"/><circle cx="680.8" cy="6" r="0.95" fill="#7fcfb4"/><circle cx="683.2" cy="6" r="0.95" fill="#7fcfb4"/><circle cx="685.6" cy="6.4" r="0.95" fill="#98d46c"/><circle cx="687.8" cy="7.3" r="0.95" fill="#98d46c"/><circle cx="690" cy="8.6" r="0.95" fill="#98d46c"/><circle cx="692" cy="10.3" r="0.95" fill="#98d46c"/><circle cx="693.7" cy="12.4" r="0.95" fill="#98d46c"/><circle cx="695.2" cy="14.8" r="0.95" fill="#98d46c"/><circle cx="696.4" cy="17.4" r="0.95" fill="#98d46c"/><circle cx="697.3" cy="20.2" r="0.95" fill="#98d46c"/><circle cx="697.8" cy="23.2" r="0.95" fill="#98d46c"/><circle cx="695.5" cy="27.7" r="0.95" fill="#98d46c"/><circle cx="695" cy="30.8" r="0.95" fill="#98d46c"/><circle cx="694.2" cy="33.6" r="0.95" fill="#98d46c"/><circle cx="692.9" cy="36.3" r="0.95" fill="#98d46c"/><circle cx="691.3" cy="38.6" r="0.95" fill="#98d46c"/><circle cx="689.4" cy="40.5" r="0.95" fill="#98d46c"/><circle cx="687.3" cy="42" r="0.95" fill="#a9cdf2"/><circle cx="685" cy="42.9" r="0.95" fill="#a9cdf2"/><circle cx="682.6" cy="43.3" r="0.95" fill="#a9cdf2"/><circle cx="680.2" cy="43.2" r="0.95" fill="#a9cdf2"/><circle cx="677.8" cy="42.5" r="0.95" fill="#a9cdf2"/><circle cx="675.6" cy="41.3" r="0.95" fill="#a9cdf2"/><circle cx="673.6" cy="39.6" r="0.95" fill="#a9cdf2"/><circle cx="671.8" cy="37.5" r="0.95" fill="#a9cdf2"/><circle cx="670.4" cy="35" r="0.95" fill="#98d46c"/><circle cx="669.3" cy="32.2" r="0.95" fill="#98d46c"/><circle cx="669.3" cy="20.2" r="0.95" fill="#98d46c"/><circle cx="670.4" cy="17.4" r="0.95" fill="#98d46c"/><circle cx="671.8" cy="14.9" r="0.95" fill="#7fcfb4"/><circle cx="673.6" cy="12.8" r="0.95" fill="#7fcfb4"/><circle cx="675.6" cy="11.1" r="0.95" fill="#7fcfb4"/><circle cx="677.8" cy="9.9" r="0.95" fill="#7fcfb4"/><circle cx="680.2" cy="9.2" r="0.95" fill="#7fcfb4"/><circle cx="682.6" cy="9.1" r="0.95" fill="#7fcfb4"/><circle cx="685" cy="9.5" r="0.95" fill="#98d46c"/><circle cx="687.3" cy="10.4" r="0.95" fill="#98d46c"/><circle cx="689.4" cy="11.9" r="0.95" fill="#98d46c"/><circle cx="691.3" cy="13.8" r="0.95" fill="#98d46c"/><circle cx="692.9" cy="16.1" r="0.95" fill="#98d46c"/><circle cx="694.2" cy="18.8" r="0.95" fill="#98d46c"/><circle cx="695" cy="21.6" r="0.95" fill="#98d46c"/><circle cx="695.5" cy="24.7" r="0.95" fill="#98d46c"/><circle cx="693" cy="26.2" r="0.95" fill="#98d46c"/><circle cx="692.8" cy="29.2" r="0.95" fill="#98d46c"/><circle cx="692" cy="32.1" r="0.95" fill="#98d46c"/><circle cx="690.8" cy="34.7" r="0.95" fill="#98d46c"/><circle cx="689.1" cy="36.9" r="0.95" fill="#98d46c"/><circle cx="687.2" cy="38.6" r="0.95" fill="#a9cdf2"/><circle cx="685" cy="39.7" r="0.95" fill="#a9cdf2"/><circle cx="682.6" cy="40.2" r="0.95" fill="#a9cdf2"/><circle cx="680.2" cy="40" r="0.95" fill="#a9cdf2"/><circle cx="677.9" cy="39.2" r="0.95" fill="#a9cdf2"/><circle cx="675.8" cy="37.8" r="0.95" fill="#a9cdf2"/><circle cx="674" cy="35.8" r="0.95" fill="#a9cdf2"/><circle cx="674" cy="16.6" r="0.95" fill="#98d46c"/><circle cx="675.8" cy="14.6" r="0.95" fill="#7fcfb4"/><circle cx="677.9" cy="13.2" r="0.95" fill="#7fcfb4"/><circle cx="680.2" cy="12.4" r="0.95" fill="#7fcfb4"/><circle cx="682.6" cy="12.2" r="0.95" fill="#7fcfb4"/><circle cx="685" cy="12.7" r="0.95" fill="#98d46c"/><circle cx="687.2" cy="13.8" r="0.95" fill="#98d46c"/><circle cx="689.1" cy="15.5" r="0.95" fill="#98d46c"/><circle cx="690.8" cy="17.7" r="0.95" fill="#98d46c"/><circle cx="692" cy="20.3" r="0.95" fill="#98d46c"/><circle cx="692.8" cy="23.2" r="0.95" fill="#98d46c"/><circle cx="690.5" cy="27.7" r="0.95" fill="#98d46c"/><circle cx="689.8" cy="30.7" r="0.95" fill="#98d46c"/><circle cx="688.5" cy="33.3" r="0.95" fill="#98d46c"/><circle cx="686.6" cy="35.3" r="0.95" fill="#a9cdf2"/><circle cx="684.4" cy="36.6" r="0.95" fill="#a9cdf2"/><circle cx="682" cy="37.1" r="0.95" fill="#a9cdf2"/><circle cx="679.6" cy="36.6" r="0.95" fill="#a9cdf2"/><circle cx="679.6" cy="15.8" r="0.95" fill="#7fcfb4"/><circle cx="682" cy="15.3" r="0.95" fill="#7fcfb4"/><circle cx="684.4" cy="15.8" r="0.95" fill="#98d46c"/><circle cx="686.6" cy="17.1" r="0.95" fill="#98d46c"/><circle cx="688.5" cy="19.1" r="0.95" fill="#98d46c"/><circle cx="689.8" cy="21.7" r="0.95" fill="#98d46c"/><circle cx="690.5" cy="24.7" r="0.95" fill="#98d46c"/><circle cx="688.1" cy="26.2" r="0.95" fill="#98d46c"/><circle cx="687.6" cy="29.2" r="0.95" fill="#98d46c"/><circle cx="686.3" cy="31.7" r="0.95" fill="#98d46c"/><circle cx="684.3" cy="33.3" r="0.95" fill="#98d46c"/><circle cx="684.3" cy="19.1" r="0.95" fill="#98d46c"/><circle cx="686.3" cy="20.7" r="0.95" fill="#98d46c"/><circle cx="687.6" cy="23.2" r="0.95" fill="#98d46c"/>
<text x="636" y="32.6" font-family="Liberation Sans,sans-serif" font-size="16.6" font-weight="bold" letter-spacing="-0.3"><tspan fill="#3f86d8">EP</tspan><tspan fill="#7cc487">I</tspan><tspan fill="#46b3ad">CT</tspan></text>
</svg>
<div class="abs ht" style="left:371.5px;top:10.5px;font-size:15.3px;line-height:18px;letter-spacing:0.6px">2023年</div>
<div class="abs ht" style="left:371.5px;top:30px;font-size:14.6px;line-height:20px;letter-spacing:4.6px">第六届</div>
<div class="abs ht" style="left:440.5px;top:11.5px;font-size:12.6px;line-height:17px;letter-spacing:4.5px;font-weight:500">电力信息通信新技术大会</div>
<div class="abs ht" style="left:440.5px;top:30.5px;font-size:12.6px;line-height:17px;letter-spacing:11.85px;font-weight:500">暨数字化发展论坛</div>
</div>
<div id="title" class="abs"><u>III. </u>基于超声波时差法的油流速测量技术<em>-</em><b>性能指标</b></div>
<div id="box" class="abs"></div>
<svg class="abs" style="left:27px;top:132px" width="16" height="18" viewBox="0 0 16 18"><path d="M1 1.2L14.3 8.9L4.6 8.9Z" fill="#fff" stroke="#111" stroke-width="0.8" stroke-linejoin="miter"/><path d="M14.3 8.9L1 16.6L4.6 8.9Z" fill="#111" stroke="#111" stroke-width="0.8"/></svg><svg class="abs" style="left:27px;top:172.8px" width="16" height="18" viewBox="0 0 16 18"><path d="M1 1.2L14.3 8.9L4.6 8.9Z" fill="#fff" stroke="#111" stroke-width="0.8" stroke-linejoin="miter"/><path d="M14.3 8.9L1 16.6L4.6 8.9Z" fill="#111" stroke="#111" stroke-width="0.8"/></svg><svg class="abs" style="left:27px;top:213px" width="16" height="18" viewBox="0 0 16 18"><path d="M1 1.2L14.3 8.9L4.6 8.9Z" fill="#fff" stroke="#111" stroke-width="0.8" stroke-linejoin="miter"/><path d="M14.3 8.9L1 16.6L4.6 8.9Z" fill="#111" stroke="#111" stroke-width="0.8"/></svg>
<div class="abs ln" style="top:127.9px">搭建单声道流速传感标定平台，同时设计了空间双声道测量管路，精度较单声道<i>提升<u>0.03%-1.5%</u></i>。</div>
<div class="abs ln" style="top:168.8px">选用最小二乘法，拟合不同温度下的标准流速和实际流速，实现温度补偿。</div>
<div class="abs ln" style="top:209.5px">测量误差<i>小于<span class="tr">4.5%</span></i>，总测量响应时间<i>小于<span class="tr">4ms</span></i>，比液体流量计快<i><span class="tr">25</span>倍</i>，比气体保护动作快<i><span class="tr">50</span>倍</i>。</div>
<svg class="abs" style="left:35.5px;top:285.8px" width="214" height="213.4" viewBox="35.5 285.8 214 213.4" font-family="Liberation Sans,sans-serif">
<defs>
<radialGradient id="pbg" cx="0.5" cy="0.5" r="0.75"><stop offset="0" stop-color="#d6d6d6"/><stop offset="1" stop-color="#c6c6c6"/></radialGradient>
<linearGradient id="gbody" gradientUnits="userSpaceOnUse" x1="106.4" y1="336.7" x2="175.8" y2="458.3">
<stop offset="0" stop-color="#a6a6a6"/><stop offset="0.14" stop-color="#949494"/><stop offset="0.3" stop-color="#aeaeae"/><stop offset="0.5" stop-color="#a0a0a0"/><stop offset="0.72" stop-color="#7c7c7c"/><stop offset="1" stop-color="#5c5c5c"/></linearGradient>
<linearGradient id="gfront" gradientUnits="userSpaceOnUse" x1="45" y1="440" x2="170" y2="380"><stop offset="0" stop-color="#6f6f6f"/><stop offset="0.55" stop-color="#858585"/><stop offset="1" stop-color="#9c9c9c"/></linearGradient>
<linearGradient id="grear" gradientUnits="userSpaceOnUse" x1="106.4" y1="336.7" x2="175.8" y2="458.3">
<stop offset="0" stop-color="#c6c6c6"/><stop offset="0.18" stop-color="#b0b0b0"/><stop offset="0.32" stop-color="#dadada"/><stop offset="0.5" stop-color="#cfcfcf"/><stop offset="0.66" stop-color="#d8d8d8"/><stop offset="0.78" stop-color="#9a9a9a"/><stop offset="1" stop-color="#8a8a8a"/></linearGradient>
<clipPath id="cf"><ellipse cx="105.2" cy="418.0" rx="66.7" ry="66.8"/></clipPath>
<clipPath id="cr"><ellipse cx="177.0" cy="377.0" rx="68.5" ry="70.0"/></clipPath>
<clipPath id="ch"><path d="M71.7 359.4L143.5 318.4A68.5 70.0 0 0 1 210.5 435.6L138.7 476.6A66.7 66.8 0 0 1 71.7 359.4Z"/></clipPath>
<filter id="soft" x="-5%" y="-5%" width="110%" height="110%"><feGaussianBlur stdDeviation="0.55"/></filter>
</defs>
<rect x="35" y="285" width="216" height="216" fill="url(#pbg)"/>
<g filter="url(#soft)">
<!-- rods outside pipe + sensors behind -->
<path d="M71.7 359.4L143.5 318.4A68.5 70.0 0 0 1 210.5 435.6L138.7 476.6A66.7 66.8 0 0 1 71.7 359.4Z" fill="url(#gbody)"/>
<ellipse cx="177.0" cy="377.0" rx="68.5" ry="70.0" fill="url(#grear)"/>
<!-- rod to B1 seen through the rear end -->
<path d="M212.0 339.0L150 381" stroke="#a9a9a9" stroke-width="4.2" stroke-linecap="round" clip-path="url(#cr)"/>
<path d="M200 346.5L190 352" stroke="#b9b9b9" stroke-width="7.5" stroke-linecap="round"/>
<ellipse cx="105.2" cy="418.0" rx="66.7" ry="66.8" fill="url(#gfront)"/>
<!-- lens: see-through both open ends -->
<g clip-path="url(#cf)"><ellipse cx="177.0" cy="377.0" rx="68.5" ry="70.0" fill="#e9e9e9"/>
<ellipse cx="177.0" cy="377.0" rx="68.5" ry="70.0" fill="none" stroke="#7b7b7b" stroke-width="2.2"/>
<ellipse cx="177.0" cy="377.0" rx="66.7" ry="68.2" fill="none" stroke="#b5b5b5" stroke-width="1.3"/></g>
<!-- crossing rods -->
<g clip-path="url(#ch)">
<path d="M108.0 329.0L174.3 461.5" stroke="#585858" stroke-width="4.6"/>
<path d="M81.5 443.5L152 401.5" stroke="#4e4e4e" stroke-width="4.4"/>
<path d="M152 401.5L186 381" stroke="#5a5a5a" stroke-width="3.8"/>
</g>
<!-- ring outlines -->
<ellipse cx="177.0" cy="377.0" rx="68.5" ry="70.0" fill="none" stroke="#8b8b8b" stroke-width="1.3" stroke-opacity="0.9"/>
<ellipse cx="177.0" cy="377.0" rx="66.7" ry="68.2" fill="none" stroke="#c9c9c9" stroke-width="1.4" stroke-opacity="0.8"/>
<ellipse cx="105.2" cy="418.0" rx="66.7" ry="66.8" fill="none" stroke="#8e8e8e" stroke-width="1.2"/>
<ellipse cx="105.2" cy="418.0" rx="65.10000000000001" ry="65.2" fill="none" stroke="#c2c2c2" stroke-width="1.5"/>
<ellipse cx="105.2" cy="418.0" rx="63.5" ry="63.599999999999994" fill="none" stroke="#777" stroke-width="0.9"/>
<path d="M71.7 359.4L143.5 318.4M138.7 476.6L210.5 435.6" stroke="#9a9a9a" stroke-width="1.1" fill="none"/>
<rect x="103.5" y="321.5" width="9" height="15" rx="3" fill="#0c0c0c" transform="rotate(-26 108 329)"/><rect x="169.8" y="454.5" width="9" height="14" rx="3" fill="#0c0c0c" transform="rotate(-26 174.3 461.5)"/><rect x="202.5" y="334.5" width="19" height="9" rx="2.2" fill="#0c0c0c" transform="rotate(-31 212 339)"/><rect x="74" y="439.8" width="15" height="7.5" rx="2.2" fill="#0c0c0c" transform="rotate(-31 81.5 443.5)"/>
</g>
<g font-weight="bold" font-size="19.8" fill="#e61a1a">
<text x="80.3" y="322.8">A1</text><text x="198.8" y="329.5">B1</text><text x="62.2" y="478.2">B2</text><text x="178.2" y="478.6">A2</text>
</g>
</svg>
<svg class="abs" style="left:0;top:0" width="1080" height="609" viewBox="0 0 1080 609"><g fill="none" stroke="#2f618c" stroke-width="1.4" stroke-dasharray="4.6 3.2">
<rect x="266.6" y="249" width="384.1" height="311.4" rx="5.5"/><rect x="658.8" y="248.3" width="410.5" height="312.1" rx="5.5"/></g></svg>
<div id="fm"><span class="abs" style="left:671.6px;top:252.6px">v<sub class="z">z</sub></span><span class="abs" style="left:692.9px;top:252.6px"><s>=</s></span><span class="abs" style="left:713.5px;top:252.6px">p<sub>00</sub></span><span class="abs" style="left:743.8px;top:252.6px"><s>+</s></span><span class="abs" style="left:762.8px;top:252.6px">p<sub>10</sub>T</span><span class="abs" style="left:803.8px;top:252.6px"><s>+</s></span><span class="abs" style="left:821.9px;top:252.6px">p<sub>01</sub>v</span><span class="abs" style="left:859.9px;top:252.6px"><s>+</s></span><span class="abs" style="left:879.5px;top:252.6px">p<sub>20</sub>T<sup>2</sup></span><span class="abs" style="left:931.8px;top:252.6px"><s>+</s></span><span class="abs" style="left:950.3px;top:252.6px">p<sub>11</sub>Tv</span><span class="abs" style="left:998.6px;top:252.6px"><s>+</s></span><span class="abs" style="left:1016.9px;top:252.6px">p<sub>02</sub>v<sup>2</sup></span></div>
<table id="tbl" class="abs">
<tr><th style="width:94px">待定系数</th><th style="width:105px">低流速区</th><th>高流速区</th></tr>
<tr class="s"><td class="p">P<sub>00</sub></td><td>1.84</td><td>5.25<q>×</q>10<sup>-2</sup></td></tr>
<tr><td class="p">P<sub>10</sub></td><td>-1.28<q>×</q>10<sup>-2</sup></td><td>-9.36<q>×</q>10<sup>-4</sup></td></tr>
<tr class="s"><td class="p">P<sub>01</sub></td><td>-9.22</td><td>9.65<q>×</q>10<sup>-1</sup></td></tr>
<tr><td class="p">P<sub>20</sub></td><td>-7.55<q>×</q>10<sup>-5</sup></td><td>2.17<q>×</q>10<sup>-5</sup></td></tr>
<tr class="s"><td class="p">P<sub>11</sub></td><td>6.06<q>×</q>10<sup>-2</sup></td><td>1.05<q>×</q>10<sup>-3</sup></td></tr>
<tr><td class="p">P<sub>02</sub></td><td>1.22<q>×</q>10<sup>1</sup></td><td>1.07<q>×</q>10<sup>-1</sup></td></tr>
</table>
<svg class="abs" style="left:0;top:0" width="1080" height="609" viewBox="0 0 1080 609" font-family="Liberation Sans,sans-serif">
<path d="M291.5 270.5 V391.5 H436" fill="none" stroke="#3c3c3c" stroke-width="0.95"/>
<text x="287.1" y="273" font-size="9.1" text-anchor="end" fill="#2e2e2e">5.0</text>
<text x="287.1" y="290.3" font-size="9.1" text-anchor="end" fill="#2e2e2e">4.5</text>
<text x="287.1" y="307.5" font-size="9.1" text-anchor="end" fill="#2e2e2e">4.0</text>
<text x="287.1" y="324.8" font-size="9.1" text-anchor="end" fill="#2e2e2e">3.5</text>
<text x="287.1" y="342.1" font-size="9.1" text-anchor="end" fill="#2e2e2e">3.0</text>
<text x="287.1" y="359.4" font-size="9.1" text-anchor="end" fill="#2e2e2e">2.5</text>
<text x="287.1" y="376.7" font-size="9.1" text-anchor="end" fill="#2e2e2e">2.0</text>
<text x="287.1" y="394" font-size="9.1" text-anchor="end" fill="#2e2e2e">1.5</text>
<path d="M291.5 270.5h-2.7M291.5 279.1h-1.35M291.5 287.8h-2.7M291.5 296.4h-1.35M291.5 305.1h-2.7M291.5 313.7h-1.35M291.5 322.4h-2.7M291.5 331h-1.35M291.5 339.6h-2.7M291.5 348.3h-1.35M291.5 356.9h-2.7M291.5 365.6h-1.35M291.5 374.2h-2.7M291.5 382.9h-1.35M291.5 391.5h-2.7M302.3 391.5v2.7M323.6 391.5v2.7M345 391.5v2.7M366.4 391.5v2.7M387.7 391.5v2.7M409 391.5v2.7M430.4 391.5v2.7M313 391.5v1.35M334.3 391.5v1.35M355.7 391.5v1.35M377 391.5v1.35M398.4 391.5v1.35M419.7 391.5v1.35" stroke="#3c3c3c" stroke-width="0.9" fill="none"/>
<text x="302.3" y="402.9" font-size="9.1" text-anchor="middle" fill="#2e2e2e">0.2</text>
<text x="323.6" y="402.9" font-size="9.1" text-anchor="middle" fill="#2e2e2e">0.3</text>
<text x="345" y="402.9" font-size="9.1" text-anchor="middle" fill="#2e2e2e">0.4</text>
<text x="366.4" y="402.9" font-size="9.1" text-anchor="middle" fill="#2e2e2e">0.5</text>
<text x="387.7" y="402.9" font-size="9.1" text-anchor="middle" fill="#2e2e2e">0.6</text>
<text x="409" y="402.9" font-size="9.1" text-anchor="middle" fill="#2e2e2e">0.7</text>
<text x="430.4" y="402.9" font-size="9.1" text-anchor="middle" fill="#2e2e2e">0.8</text>
<text x="361.2" y="411.4" font-size="8.6" text-anchor="middle" fill="#2a2a2a" letter-spacing="0.55">v/m·s<tspan dy="-5" font-size="5.2" letter-spacing="0">-1</tspan></text>
<text transform="translate(274.5 329.5) rotate(-63)" font-size="8.3" text-anchor="middle" fill="#222">e/%</text>
<polyline points="306.3,305.7 344.9,314.7 387.5,340.4 430.3,343.8" fill="none" stroke="#111" stroke-width="1.3" stroke-linejoin="round"/><rect x="303.9" y="303.3" width="4.8" height="4.8" fill="#111"/><rect x="342.5" y="312.3" width="4.8" height="4.8" fill="#111"/><rect x="385.1" y="338" width="4.8" height="4.8" fill="#111"/><rect x="427.9" y="341.4" width="4.8" height="4.8" fill="#111"/>
<polyline points="306.3,321.5 344.9,330.4 387.5,339.1 430.3,369.1" fill="none" stroke="#d0242a" stroke-width="1.3" stroke-linejoin="round"/><circle cx="306.3" cy="321.5" r="2.7" fill="#d0242a"/><circle cx="344.9" cy="330.4" r="2.7" fill="#d0242a"/><circle cx="387.5" cy="339.1" r="2.7" fill="#d0242a"/><circle cx="430.3" cy="369.1" r="2.7" fill="#d0242a"/>
<rect x="380.1" y="274" width="70.4" height="21.6" fill="#fff" stroke="#777" stroke-width="0.7"/><path d="M381.3 279.9H399" stroke="#111" stroke-width="1.3"/><path d="M381.3 289.7H399" stroke="#c8262c" stroke-width="1.2"/><rect x="387.8" y="277.6" width="4.6" height="4.6" fill="#111"/><circle cx="390.1" cy="289.7" r="2.4" fill="#c8262c"/><text x="401.3" y="282.7" fill="#222"><tspan font-family='&quot;Liberation Sans&quot;,&quot;Noto Sans CJK SC&quot;,sans-serif' font-size="7.9" font-weight="bold">30</tspan><tspan font-family='&quot;Liberation Serif&quot;,&quot;Noto Serif CJK SC&quot;,serif' font-size="6.6" font-weight="600" letter-spacing="1.2">℃时单声道</tspan></text><text x="401.3" y="292.5" fill="#222"><tspan font-family='&quot;Liberation Sans&quot;,&quot;Noto Sans CJK SC&quot;,sans-serif' font-size="7.9" font-weight="bold">30</tspan><tspan font-family='&quot;Liberation Serif&quot;,&quot;Noto Serif CJK SC&quot;,serif' font-size="6.6" font-weight="600" letter-spacing="1.2">℃时双声道</tspan></text>
<path d="M487.5 270.5 V387.5 H633.5" fill="none" stroke="#3c3c3c" stroke-width="0.95"/>
<text x="483.1" y="272.3" font-size="8.8" text-anchor="end" fill="#2e2e2e">5.0</text>
<text x="483.1" y="289" font-size="8.8" text-anchor="end" fill="#2e2e2e">4.5</text>
<text x="483.1" y="305.7" font-size="8.8" text-anchor="end" fill="#2e2e2e">4.0</text>
<text x="483.1" y="322.4" font-size="8.8" text-anchor="end" fill="#2e2e2e">3.5</text>
<text x="483.1" y="339.1" font-size="8.8" text-anchor="end" fill="#2e2e2e">3.0</text>
<text x="483.1" y="355.8" font-size="8.8" text-anchor="end" fill="#2e2e2e">2.5</text>
<text x="483.1" y="372.6" font-size="8.8" text-anchor="end" fill="#2e2e2e">2.0</text>
<text x="483.1" y="389.3" font-size="8.8" text-anchor="end" fill="#2e2e2e">1.5</text>
<path d="M487.5 270.5h-2.7M487.5 278.9h-1.35M487.5 287.2h-2.7M487.5 295.6h-1.35M487.5 303.9h-2.7M487.5 312.3h-1.35M487.5 320.6h-2.7M487.5 329h-1.35M487.5 337.4h-2.7M487.5 345.7h-1.35M487.5 354.1h-2.7M487.5 362.4h-1.35M487.5 370.8h-2.7M487.5 379.1h-1.35M487.5 387.5h-2.7M495.3 387.5v2.7M511.6 387.5v2.7M527.9 387.5v2.7M544.2 387.5v2.7M560.5 387.5v2.7M576.9 387.5v2.7M593.2 387.5v2.7M609.5 387.5v2.7M625.8 387.5v2.7M487.1 387.5v1.35M503.5 387.5v1.35M519.8 387.5v1.35M536.1 387.5v1.35M552.4 387.5v1.35M568.7 387.5v1.35M585 387.5v1.35M601.3 387.5v1.35M617.6 387.5v1.35M634 387.5v1.35" stroke="#3c3c3c" stroke-width="0.9" fill="none"/>
<text x="495.3" y="398.8" font-size="8.8" text-anchor="middle" fill="#2e2e2e">0.8</text>
<text x="511.6" y="398.8" font-size="8.8" text-anchor="middle" fill="#2e2e2e">1.0</text>
<text x="527.9" y="398.8" font-size="8.8" text-anchor="middle" fill="#2e2e2e">1.2</text>
<text x="544.2" y="398.8" font-size="8.8" text-anchor="middle" fill="#2e2e2e">1.4</text>
<text x="560.5" y="398.8" font-size="8.8" text-anchor="middle" fill="#2e2e2e">1.6</text>
<text x="576.9" y="398.8" font-size="8.8" text-anchor="middle" fill="#2e2e2e">1.8</text>
<text x="593.2" y="398.8" font-size="8.8" text-anchor="middle" fill="#2e2e2e">2.0</text>
<text x="609.5" y="398.8" font-size="8.8" text-anchor="middle" fill="#2e2e2e">2.2</text>
<text x="625.8" y="398.8" font-size="8.8" text-anchor="middle" fill="#2e2e2e">2.4</text>
<text x="562" y="408.1" font-size="8.5" text-anchor="middle" fill="#2a2a2a" letter-spacing="0.55">v/m·s<tspan dy="-5" font-size="5.2" letter-spacing="0">-1</tspan></text>
<text transform="translate(469.3 332) rotate(-90)" font-size="9.3" text-anchor="middle" fill="#222">e/%</text>
<polyline points="502.8,311.8 528.1,327.5 553.6,372 578.5,346.5 593.8,339.1 616.4,333.3" fill="none" stroke="#111" stroke-width="1.3" stroke-linejoin="round"/><rect x="500.7" y="309.7" width="4.2" height="4.2" fill="#111"/><rect x="526" y="325.4" width="4.2" height="4.2" fill="#111"/><rect x="551.5" y="369.9" width="4.2" height="4.2" fill="#111"/><rect x="576.4" y="344.4" width="4.2" height="4.2" fill="#111"/><rect x="591.7" y="337" width="4.2" height="4.2" fill="#111"/><rect x="614.3" y="331.2" width="4.2" height="4.2" fill="#111"/>
<polyline points="502.8,350.1 528.1,346.5 553.6,374.3 578.5,358.5 593.8,346.5 616.4,358.8" fill="none" stroke="#d0242a" stroke-width="1.3" stroke-linejoin="round"/><circle cx="502.8" cy="350.1" r="2.3" fill="#d0242a"/><circle cx="528.1" cy="346.5" r="2.3" fill="#d0242a"/><circle cx="553.6" cy="374.3" r="2.3" fill="#d0242a"/><circle cx="578.5" cy="358.5" r="2.3" fill="#d0242a"/><circle cx="593.8" cy="346.5" r="2.3" fill="#d0242a"/><circle cx="616.4" cy="358.8" r="2.3" fill="#d0242a"/>
<rect x="572.2" y="270.1" width="61.8" height="19.5" fill="#fff" stroke="#777" stroke-width="0.7"/><path d="M572.4 276.1H586.5" stroke="#111" stroke-width="1.3"/><path d="M572.4 285H586.5" stroke="#c8262c" stroke-width="1.2"/><circle cx="579.8" cy="276.1" r="2" fill="#111"/><circle cx="579.8" cy="285" r="2.1" fill="#c8262c"/><text x="589.1" y="278.7" fill="#222"><tspan font-family='&quot;Liberation Sans&quot;,&quot;Noto Sans CJK SC&quot;,sans-serif' font-size="7.3" font-weight="bold">30</tspan><tspan font-family='&quot;Liberation Serif&quot;,&quot;Noto Serif CJK SC&quot;,serif' font-size="5.8" font-weight="600" letter-spacing="1.4">℃时单声道</tspan></text><text x="589.1" y="287.6" fill="#222"><tspan font-family='&quot;Liberation Sans&quot;,&quot;Noto Sans CJK SC&quot;,sans-serif' font-size="7.3" font-weight="bold">30</tspan><tspan font-family='&quot;Liberation Serif&quot;,&quot;Noto Serif CJK SC&quot;,serif' font-size="5.8" font-weight="600" letter-spacing="1.4">℃时双声道</tspan></text>
<path d="M293.5 421.5 V537.5 H437" fill="none" stroke="#3c3c3c" stroke-width="0.95"/>
<text x="289.1" y="423.8" font-size="8.6" text-anchor="end" fill="#2e2e2e">5.0</text>
<text x="289.1" y="440.4" font-size="8.6" text-anchor="end" fill="#2e2e2e">4.5</text>
<text x="289.1" y="456.9" font-size="8.6" text-anchor="end" fill="#2e2e2e">4.0</text>
<text x="289.1" y="473.5" font-size="8.6" text-anchor="end" fill="#2e2e2e">3.5</text>
<text x="289.1" y="490.1" font-size="8.6" text-anchor="end" fill="#2e2e2e">3.0</text>
<text x="289.1" y="506.7" font-size="8.6" text-anchor="end" fill="#2e2e2e">2.5</text>
<text x="289.1" y="523.2" font-size="8.6" text-anchor="end" fill="#2e2e2e">2.0</text>
<text x="289.1" y="539.8" font-size="8.6" text-anchor="end" fill="#2e2e2e">1.5</text>
<path d="M293.5 421.5h-2.7M293.5 429.8h-1.35M293.5 438.1h-2.7M293.5 446.4h-1.35M293.5 454.6h-2.7M293.5 462.9h-1.35M293.5 471.2h-2.7M293.5 479.5h-1.35M293.5 487.8h-2.7M293.5 496.1h-1.35M293.5 504.4h-2.7M293.5 512.6h-1.35M293.5 520.9h-2.7M293.5 529.2h-1.35M293.5 537.5h-2.7M303.9 537.5v2.7M324.3 537.5v2.7M344.7 537.5v2.7M365.1 537.5v2.7M385.6 537.5v2.7M406 537.5v2.7M426.4 537.5v2.7M314.1 537.5v1.35M334.5 537.5v1.35M354.9 537.5v1.35M375.4 537.5v1.35M395.8 537.5v1.35M416.2 537.5v1.35" stroke="#3c3c3c" stroke-width="0.9" fill="none"/>
<text x="303.9" y="547.8" font-size="8.6" text-anchor="middle" fill="#2e2e2e">0.2</text>
<text x="324.3" y="547.8" font-size="8.6" text-anchor="middle" fill="#2e2e2e">0.3</text>
<text x="344.7" y="547.8" font-size="8.6" text-anchor="middle" fill="#2e2e2e">0.4</text>
<text x="365.1" y="547.8" font-size="8.6" text-anchor="middle" fill="#2e2e2e">0.5</text>
<text x="385.6" y="547.8" font-size="8.6" text-anchor="middle" fill="#2e2e2e">0.6</text>
<text x="406" y="547.8" font-size="8.6" text-anchor="middle" fill="#2e2e2e">0.7</text>
<text x="426.4" y="547.8" font-size="8.6" text-anchor="middle" fill="#2e2e2e">0.8</text>
<text x="361.2" y="558.2" font-size="8.6" text-anchor="middle" fill="#2a2a2a" letter-spacing="0.55">v/m·s<tspan dy="-5" font-size="5.2" letter-spacing="0">-1</tspan></text>
<text transform="translate(278.3 478.3) rotate(-80)" font-size="8.3" text-anchor="middle" fill="#222">e/%</text>
<polyline points="307.8,509.9 344.9,503.8 385.6,471.8 426.1,514.1" fill="none" stroke="#111" stroke-width="1.3" stroke-linejoin="round"/><rect x="305.5" y="507.6" width="4.6" height="4.6" fill="#111"/><rect x="342.6" y="501.5" width="4.6" height="4.6" fill="#111"/><rect x="383.3" y="469.5" width="4.6" height="4.6" fill="#111"/><rect x="423.8" y="511.8" width="4.6" height="4.6" fill="#111"/>
<polyline points="307.8,519.3 344.9,516.4 385.6,517.7 426.1,534.8" fill="none" stroke="#d0242a" stroke-width="1.3" stroke-linejoin="round"/><circle cx="307.8" cy="519.3" r="2.6" fill="#d0242a"/><circle cx="344.9" cy="516.4" r="2.6" fill="#d0242a"/><circle cx="385.6" cy="517.7" r="2.6" fill="#d0242a"/><circle cx="426.1" cy="534.8" r="2.6" fill="#d0242a"/>
<rect x="373.1" y="431" width="68.2" height="19.5" fill="#fff" stroke="#777" stroke-width="0.7"/><path d="M374.3 435.9H391.7" stroke="#111" stroke-width="1.3"/><path d="M374.3 445.6H391.7" stroke="#c8262c" stroke-width="1.2"/><rect x="380.7" y="433.7" width="4.4" height="4.4" fill="#111"/><circle cx="382.9" cy="445.6" r="2.3" fill="#c8262c"/><text x="393.9" y="438.6" fill="#222"><tspan font-family='&quot;Liberation Sans&quot;,&quot;Noto Sans CJK SC&quot;,sans-serif' font-size="7.4" font-weight="bold">60</tspan><tspan font-family='&quot;Liberation Serif&quot;,&quot;Noto Serif CJK SC&quot;,serif' font-size="6.1" font-weight="600" letter-spacing="1.4">℃时单声道</tspan></text><text x="393.9" y="448.3" fill="#222"><tspan font-family='&quot;Liberation Sans&quot;,&quot;Noto Sans CJK SC&quot;,sans-serif' font-size="7.4" font-weight="bold">60</tspan><tspan font-family='&quot;Liberation Serif&quot;,&quot;Noto Serif CJK SC&quot;,serif' font-size="6.1" font-weight="600" letter-spacing="1.4">℃时双声道</tspan></text>
<path d="M487.5 416.5 V530.5 H628.5" fill="none" stroke="#3c3c3c" stroke-width="0.95"/>
<text x="483.1" y="419.1" font-size="8.6" text-anchor="end" fill="#2e2e2e">5.0</text>
<text x="483.1" y="433.3" font-size="8.6" text-anchor="end" fill="#2e2e2e">4.5</text>
<text x="483.1" y="447.6" font-size="8.6" text-anchor="end" fill="#2e2e2e">4.0</text>
<text x="483.1" y="461.8" font-size="8.6" text-anchor="end" fill="#2e2e2e">3.5</text>
<text x="483.1" y="476.1" font-size="8.6" text-anchor="end" fill="#2e2e2e">3.0</text>
<text x="483.1" y="490.3" font-size="8.6" text-anchor="end" fill="#2e2e2e">2.5</text>
<text x="483.1" y="504.6" font-size="8.6" text-anchor="end" fill="#2e2e2e">2.0</text>
<text x="483.1" y="518.8" font-size="8.6" text-anchor="end" fill="#2e2e2e">1.5</text>
<text x="483.1" y="533.1" font-size="8.6" text-anchor="end" fill="#2e2e2e">1.0</text>
<path d="M487.5 416.5h-2.7M487.5 423.6h-1.35M487.5 430.8h-2.7M487.5 437.9h-1.35M487.5 445h-2.7M487.5 452.1h-1.35M487.5 459.2h-2.7M487.5 466.4h-1.35M487.5 473.5h-2.7M487.5 480.6h-1.35M487.5 487.8h-2.7M487.5 494.9h-1.35M487.5 502h-2.7M487.5 509.1h-1.35M487.5 516.2h-2.7M487.5 523.4h-1.35M487.5 530.5h-2.7M495.3 530.5v2.7M511.1 530.5v2.7M526.8 530.5v2.7M542.5 530.5v2.7M558.3 530.5v2.7M574 530.5v2.7M589.8 530.5v2.7M605.5 530.5v2.7M621.3 530.5v2.7M487.4 530.5v1.35M503.2 530.5v1.35M518.9 530.5v1.35M534.7 530.5v1.35M550.4 530.5v1.35M566.2 530.5v1.35M581.9 530.5v1.35M597.7 530.5v1.35M613.4 530.5v1.35M629.2 530.5v1.35" stroke="#3c3c3c" stroke-width="0.9" fill="none"/>
<text x="495.3" y="541.5" font-size="8.6" text-anchor="middle" fill="#2e2e2e">0.8</text>
<text x="511.1" y="541.5" font-size="8.6" text-anchor="middle" fill="#2e2e2e">1.0</text>
<text x="526.8" y="541.5" font-size="8.6" text-anchor="middle" fill="#2e2e2e">1.2</text>
<text x="542.5" y="541.5" font-size="8.6" text-anchor="middle" fill="#2e2e2e">1.4</text>
<text x="558.3" y="541.5" font-size="8.6" text-anchor="middle" fill="#2e2e2e">1.6</text>
<text x="574" y="541.5" font-size="8.6" text-anchor="middle" fill="#2e2e2e">1.8</text>
<text x="589.8" y="541.5" font-size="8.6" text-anchor="middle" fill="#2e2e2e">2.0</text>
<text x="605.5" y="541.5" font-size="8.6" text-anchor="middle" fill="#2e2e2e">2.2</text>
<text x="621.3" y="541.5" font-size="8.6" text-anchor="middle" fill="#2e2e2e">2.4</text>
<text x="558.2" y="550.4" font-size="8.5" text-anchor="middle" fill="#2a2a2a" letter-spacing="0.55">v/m·s<tspan dy="-5" font-size="5.2" letter-spacing="0">-1</tspan></text>
<text transform="translate(470.5 476) rotate(-90)" font-size="9.3" text-anchor="middle" fill="#222">e/%</text>
<polyline points="502.3,483.6 526.2,473.6 551.7,497.5 575.9,469.4 589.8,482.3 611.9,470.7" fill="none" stroke="#111" stroke-width="1.3" stroke-linejoin="round"/><rect x="500.2" y="481.5" width="4.2" height="4.2" fill="#111"/><rect x="524.1" y="471.5" width="4.2" height="4.2" fill="#111"/><rect x="549.6" y="495.4" width="4.2" height="4.2" fill="#111"/><rect x="573.8" y="467.3" width="4.2" height="4.2" fill="#111"/><rect x="587.7" y="480.2" width="4.2" height="4.2" fill="#111"/><rect x="609.8" y="468.6" width="4.2" height="4.2" fill="#111"/>
<polyline points="502.3,523.5 526.2,492.8 551.7,509.3 575.9,510.9 589.8,483.3 611.9,486.2" fill="none" stroke="#d0242a" stroke-width="1.3" stroke-linejoin="round"/><circle cx="502.3" cy="523.5" r="2.3" fill="#d0242a"/><circle cx="526.2" cy="492.8" r="2.3" fill="#d0242a"/><circle cx="551.7" cy="509.3" r="2.3" fill="#d0242a"/><circle cx="575.9" cy="510.9" r="2.3" fill="#d0242a"/><circle cx="589.8" cy="483.3" r="2.3" fill="#d0242a"/><circle cx="611.9" cy="486.2" r="2.3" fill="#d0242a"/>
<rect x="569.2" y="417.2" width="59.8" height="18.4" fill="#fff" stroke="#777" stroke-width="0.7"/><path d="M569.4 422.4H583.5" stroke="#111" stroke-width="1.3"/><path d="M569.4 431.1H583.5" stroke="#c8262c" stroke-width="1.2"/><circle cx="576.7" cy="422.4" r="1.8" fill="#111"/><circle cx="576.7" cy="431.1" r="1.9" fill="#c8262c"/><text x="585.7" y="424.7" fill="#222"><tspan font-family='&quot;Liberation Serif&quot;,&quot;Noto Serif CJK SC&quot;,serif' font-size="6.4">60</tspan><tspan font-family='&quot;Liberation Serif&quot;,&quot;Noto Serif CJK SC&quot;,serif' font-size="5.6" font-weight="600" letter-spacing="1.4">℃时单声道</tspan></text><text x="585.7" y="433.4" fill="#222"><tspan font-family='&quot;Liberation Serif&quot;,&quot;Noto Serif CJK SC&quot;,serif' font-size="6.4">60</tspan><tspan font-family='&quot;Liberation Serif&quot;,&quot;Noto Serif CJK SC&quot;,serif' font-size="5.6" font-weight="600" letter-spacing="1.4">℃时双声道</tspan></text>
<path d="M677.5 402.5 V529.5 H833" fill="none" stroke="#3c3c3c" stroke-width="0.95"/>
<text x="673.1" y="404.7" font-size="8.2" text-anchor="end" fill="#2e2e2e">5.0</text>
<text x="673.1" y="422.8" font-size="8.2" text-anchor="end" fill="#2e2e2e">4.5</text>
<text x="673.1" y="440.9" font-size="8.2" text-anchor="end" fill="#2e2e2e">4.0</text>
<text x="673.1" y="459.1" font-size="8.2" text-anchor="end" fill="#2e2e2e">3.5</text>
<text x="673.1" y="477.2" font-size="8.2" text-anchor="end" fill="#2e2e2e">3.0</text>
<text x="673.1" y="495.4" font-size="8.2" text-anchor="end" fill="#2e2e2e">2.5</text>
<text x="673.1" y="513.5" font-size="8.2" text-anchor="end" fill="#2e2e2e">2.0</text>
<text x="673.1" y="531.7" font-size="8.2" text-anchor="end" fill="#2e2e2e">1.5</text>
<path d="M677.5 402.5h-2.7M677.5 411.6h-1.35M677.5 420.6h-2.7M677.5 429.7h-1.35M677.5 438.8h-2.7M677.5 447.9h-1.35M677.5 456.9h-2.7M677.5 466h-1.35M677.5 475.1h-2.7M677.5 484.1h-1.35M677.5 493.2h-2.7M677.5 502.3h-1.35M677.5 511.4h-2.7M677.5 520.4h-1.35M677.5 529.5h-2.7M685.9 529.5v2.7M703.3 529.5v2.7M720.8 529.5v2.7M738.2 529.5v2.7M755.6 529.5v2.7M773.1 529.5v2.7M790.5 529.5v2.7M808 529.5v2.7M825.4 529.5v2.7M677.2 529.5v1.35M694.6 529.5v1.35M712.1 529.5v1.35M729.5 529.5v1.35M746.9 529.5v1.35M764.4 529.5v1.35M781.8 529.5v1.35M799.2 529.5v1.35M816.7 529.5v1.35M834.1 529.5v1.35" stroke="#3c3c3c" stroke-width="0.9" fill="none"/>
<text x="685.9" y="539.7" font-size="8.2" text-anchor="middle" fill="#2e2e2e">0.8</text>
<text x="703.3" y="539.7" font-size="8.2" text-anchor="middle" fill="#2e2e2e">1.0</text>
<text x="720.8" y="539.7" font-size="8.2" text-anchor="middle" fill="#2e2e2e">1.2</text>
<text x="738.2" y="539.7" font-size="8.2" text-anchor="middle" fill="#2e2e2e">1.4</text>
<text x="755.6" y="539.7" font-size="8.2" text-anchor="middle" fill="#2e2e2e">1.6</text>
<text x="773.1" y="539.7" font-size="8.2" text-anchor="middle" fill="#2e2e2e">1.8</text>
<text x="790.5" y="539.7" font-size="8.2" text-anchor="middle" fill="#2e2e2e">2.0</text>
<text x="808" y="539.7" font-size="8.2" text-anchor="middle" fill="#2e2e2e">2.2</text>
<text x="825.4" y="539.7" font-size="8.2" text-anchor="middle" fill="#2e2e2e">2.4</text>
<text x="752.2" y="551.4" font-size="8" text-anchor="middle" fill="#2a2a2a" letter-spacing="0.55">v/m·s<tspan dy="-5" font-size="5.2" letter-spacing="0">-1</tspan></text>
<text transform="translate(658.6 462.5) rotate(-78)" font-size="8.5" text-anchor="middle" fill="#222">e/%</text>
<polyline points="694.9,466.2 721.1,483.7 747.1,467.4 772.9,494.5 790.4,477.4 816.6,467.4" fill="none" stroke="#1c1c1c" stroke-width="1.45" stroke-linejoin="round"/><rect x="693.6" y="464.9" width="2.6" height="2.6" fill="#8fb8d8"/><rect x="719.8" y="482.4" width="2.6" height="2.6" fill="#8fb8d8"/><rect x="745.8" y="466.1" width="2.6" height="2.6" fill="#8fb8d8"/><rect x="771.6" y="493.2" width="2.6" height="2.6" fill="#8fb8d8"/><rect x="789.1" y="476.1" width="2.6" height="2.6" fill="#8fb8d8"/><rect x="815.3" y="466.1" width="2.6" height="2.6" fill="#8fb8d8"/>
<polyline points="694.9,447.6 721.1,468.3 747.1,510.8 772.9,486.4 790.4,476.5 816.6,474.6" fill="none" stroke="#d83a28" stroke-width="1.45" stroke-linejoin="round"/>
<polyline points="694.9,476.1 721.1,451.7 747.1,488.5 772.9,504.1 790.4,471.6 816.6,494.1" fill="none" stroke="#2a35b4" stroke-width="1.45" stroke-linejoin="round"/><rect x="693.6" y="474.8" width="2.6" height="2.6" fill="#6aa0dc"/><rect x="719.8" y="450.4" width="2.6" height="2.6" fill="#6aa0dc"/><rect x="745.8" y="487.2" width="2.6" height="2.6" fill="#6aa0dc"/><rect x="771.6" y="502.8" width="2.6" height="2.6" fill="#6aa0dc"/><rect x="789.1" y="470.3" width="2.6" height="2.6" fill="#6aa0dc"/><rect x="815.3" y="492.8" width="2.6" height="2.6" fill="#6aa0dc"/>
<polyline points="694.9,456.1 721.1,448.1 747.1,496.3 772.9,518 790.4,463.8 816.6,452.1" fill="none" stroke="#d844cc" stroke-width="1.45" stroke-linejoin="round"/><rect x="693.6" y="454.8" width="2.6" height="2.6" fill="#f0c8f0"/><rect x="719.8" y="446.8" width="2.6" height="2.6" fill="#f0c8f0"/><rect x="745.8" y="495" width="2.6" height="2.6" fill="#f0c8f0"/><rect x="771.6" y="516.7" width="2.6" height="2.6" fill="#f0c8f0"/><rect x="789.1" y="462.5" width="2.6" height="2.6" fill="#f0c8f0"/><rect x="815.3" y="450.8" width="2.6" height="2.6" fill="#f0c8f0"/>
<polyline points="694.9,482.4 721.1,473.4 747.1,503.9 772.9,472.3 790.4,486.4 816.6,471.6" fill="none" stroke="#2e7f33" stroke-width="1.45" stroke-linejoin="round"/><rect x="693.6" y="481.1" width="2.6" height="2.6" fill="#b8d8b8"/><rect x="719.8" y="472.1" width="2.6" height="2.6" fill="#b8d8b8"/><rect x="745.8" y="502.6" width="2.6" height="2.6" fill="#b8d8b8"/><rect x="771.6" y="471" width="2.6" height="2.6" fill="#b8d8b8"/><rect x="789.1" y="485.1" width="2.6" height="2.6" fill="#b8d8b8"/><rect x="815.3" y="470.3" width="2.6" height="2.6" fill="#b8d8b8"/>
<polyline points="694.9,466.2 721.1,476.1 747.1,459.7 772.9,460.2 790.4,514.4 816.6,477.4" fill="none" stroke="#1a1a6c" stroke-width="1.45" stroke-linejoin="round"/>
<polyline points="694.9,465.6 721.1,476.1 747.1,459.7 772.9,444.3 790.4,462.6 816.6,515.8" fill="none" stroke="#6f279f" stroke-width="1.45" stroke-linejoin="round"/><rect x="693.6" y="464.3" width="2.6" height="2.6" fill="#30104a"/><rect x="719.8" y="474.8" width="2.6" height="2.6" fill="#30104a"/><rect x="745.8" y="458.4" width="2.6" height="2.6" fill="#30104a"/><rect x="771.6" y="443" width="2.6" height="2.6" fill="#30104a"/><rect x="789.1" y="461.3" width="2.6" height="2.6" fill="#30104a"/><rect x="815.3" y="514.5" width="2.6" height="2.6" fill="#30104a"/>
<rect x="817.4" y="392.3" width="38.6" height="66.5" fill="#fff" stroke="#777" stroke-width="0.7"/><path d="M818 396.8h18.4" stroke="#1c1c1c" stroke-width="1.4"/><rect x="826.6" y="395.5" width="2.6" height="2.6" fill="#8fb8d8"/><text x="838" y="399.6" font-size="7.7" fill="#2a2a2a" letter-spacing="-0.15">20<tspan font-size="4.6" dy="-2.6">o</tspan><tspan dy="2.6">C</tspan></text><path d="M818 406.3h18.4" stroke="#d83a28" stroke-width="1.4" stroke-dasharray="8 2.4"/><text x="838" y="409.1" font-size="7.7" fill="#2a2a2a" letter-spacing="-0.15">30<tspan font-size="4.6" dy="-2.6">o</tspan><tspan dy="2.6">C</tspan></text><path d="M818 415.5h18.4" stroke="#2a35b4" stroke-width="1.4"/><rect x="826.6" y="414.2" width="2.6" height="2.6" fill="#6aa0dc"/><text x="838" y="418.3" font-size="7.7" fill="#2a2a2a" letter-spacing="-0.15">40<tspan font-size="4.6" dy="-2.6">o</tspan><tspan dy="2.6">C</tspan></text><path d="M818 424.9h18.4" stroke="#d844cc" stroke-width="1.4" stroke-dasharray="8 2.4"/><text x="838" y="427.7" font-size="7.7" fill="#2a2a2a" letter-spacing="-0.15">50<tspan font-size="4.6" dy="-2.6">o</tspan><tspan dy="2.6">C</tspan></text><path d="M818 434.1h18.4" stroke="#2e7f33" stroke-width="1.4" stroke-dasharray="8 2.4"/><text x="838" y="436.9" font-size="7.7" fill="#2a2a2a" letter-spacing="-0.15">60<tspan font-size="4.6" dy="-2.6">o</tspan><tspan dy="2.6">C</tspan></text><path d="M818 443.6h18.4" stroke="#1a1a6c" stroke-width="1.4" stroke-dasharray="8 2.4"/><text x="838" y="446.4" font-size="7.7" fill="#2a2a2a" letter-spacing="-0.15">70<tspan font-size="4.6" dy="-2.6">o</tspan><tspan dy="2.6">C</tspan></text><path d="M818 453h18.4" stroke="#6f279f" stroke-width="1.4"/><rect x="826.6" y="451.7" width="2.6" height="2.6" fill="#30104a"/><text x="838" y="455.8" font-size="7.7" fill="#2a2a2a" letter-spacing="-0.15">80<tspan font-size="4.6" dy="-2.6">o</tspan><tspan dy="2.6">C</tspan></text>
<path d="M881.5 401.5 V530.5 H1042" fill="none" stroke="#3c3c3c" stroke-width="0.95"/>
<text x="877.1" y="404" font-size="8.9" text-anchor="end" fill="#2e2e2e">5.0</text>
<text x="877.1" y="422.4" font-size="8.9" text-anchor="end" fill="#2e2e2e">4.5</text>
<text x="877.1" y="440.9" font-size="8.9" text-anchor="end" fill="#2e2e2e">4.0</text>
<text x="877.1" y="459.3" font-size="8.9" text-anchor="end" fill="#2e2e2e">3.5</text>
<text x="877.1" y="477.7" font-size="8.9" text-anchor="end" fill="#2e2e2e">3.0</text>
<text x="877.1" y="496.1" font-size="8.9" text-anchor="end" fill="#2e2e2e">2.5</text>
<text x="877.1" y="514.6" font-size="8.9" text-anchor="end" fill="#2e2e2e">2.0</text>
<text x="877.1" y="533" font-size="8.9" text-anchor="end" fill="#2e2e2e">1.5</text>
<path d="M881.5 401.5h-2.7M881.5 410.7h-1.35M881.5 419.9h-2.7M881.5 429.1h-1.35M881.5 438.4h-2.7M881.5 447.6h-1.35M881.5 456.8h-2.7M881.5 466h-1.35M881.5 475.2h-2.7M881.5 484.4h-1.35M881.5 493.6h-2.7M881.5 502.9h-1.35M881.5 512.1h-2.7M881.5 521.3h-1.35M881.5 530.5h-2.7M881.6 530.5v2.7M917.1 530.5v2.7M952.5 530.5v2.7M988 530.5v2.7M1023.5 530.5v2.7M899.3 530.5v1.35M934.8 530.5v1.35M970.3 530.5v1.35M1005.8 530.5v1.35M1041.2 530.5v1.35" stroke="#3c3c3c" stroke-width="0.9" fill="none"/>
<text x="881.6" y="541.5" font-size="8.9" text-anchor="middle" fill="#2e2e2e">0.0</text>
<text x="917.1" y="541.5" font-size="8.9" text-anchor="middle" fill="#2e2e2e">0.2</text>
<text x="952.5" y="541.5" font-size="8.9" text-anchor="middle" fill="#2e2e2e">0.4</text>
<text x="988" y="541.5" font-size="8.9" text-anchor="middle" fill="#2e2e2e">0.6</text>
<text x="1023.5" y="541.5" font-size="8.9" text-anchor="middle" fill="#2e2e2e">0.8</text>
<text x="957.2" y="551.4" font-size="8" text-anchor="middle" fill="#2a2a2a" letter-spacing="0.55">v/m·s<tspan dy="-5" font-size="5.2" letter-spacing="0">-1</tspan></text>
<text transform="translate(862.6 462.5) rotate(-78)" font-size="8.5" text-anchor="middle" fill="#222">e/%</text>
<polyline points="917.4,419.6 952.6,446.5 988,445 1023.5,495" fill="none" stroke="#1c1c1c" stroke-width="1.45" stroke-linejoin="round"/><rect x="916.1" y="418.3" width="2.6" height="2.6" fill="#8fb8d8"/><rect x="951.3" y="445.2" width="2.6" height="2.6" fill="#8fb8d8"/><rect x="986.7" y="443.7" width="2.6" height="2.6" fill="#8fb8d8"/><rect x="1022.2" y="493.7" width="2.6" height="2.6" fill="#8fb8d8"/>
<polyline points="917.4,439.1 952.6,444.1 988,475.2 1023.5,476" fill="none" stroke="#d83a28" stroke-width="1.45" stroke-linejoin="round"/>
<polyline points="917.4,464.8 952.6,458 988,507.7 1023.5,445.6" fill="none" stroke="#2a35b4" stroke-width="1.45" stroke-linejoin="round"/><rect x="916.1" y="463.5" width="2.6" height="2.6" fill="#6aa0dc"/><rect x="951.3" y="456.7" width="2.6" height="2.6" fill="#6aa0dc"/><rect x="986.7" y="506.4" width="2.6" height="2.6" fill="#6aa0dc"/><rect x="1022.2" y="444.3" width="2.6" height="2.6" fill="#6aa0dc"/>
<polyline points="917.4,455.9 952.6,450.6 988,486.1 1023.5,483.4" fill="none" stroke="#d844cc" stroke-width="1.45" stroke-linejoin="round"/><rect x="916.1" y="454.6" width="2.6" height="2.6" fill="#f0c8f0"/><rect x="951.3" y="449.3" width="2.6" height="2.6" fill="#f0c8f0"/><rect x="986.7" y="484.8" width="2.6" height="2.6" fill="#f0c8f0"/><rect x="1022.2" y="482.1" width="2.6" height="2.6" fill="#f0c8f0"/>
<polyline points="917.4,487.9 952.6,484 988,469.2 1023.5,508.6" fill="none" stroke="#2e7f33" stroke-width="1.45" stroke-linejoin="round"/><rect x="916.1" y="486.6" width="2.6" height="2.6" fill="#c8e0c8"/><rect x="951.3" y="482.7" width="2.6" height="2.6" fill="#c8e0c8"/><rect x="986.7" y="467.9" width="2.6" height="2.6" fill="#c8e0c8"/><rect x="1022.2" y="507.3" width="2.6" height="2.6" fill="#c8e0c8"/>
<polyline points="917.4,454.5 952.6,447.1 988,475.2 1023.5,460.4" fill="none" stroke="#1a1a6c" stroke-width="1.45" stroke-linejoin="round"/>
<polyline points="917.4,484 952.6,476 988,463.3 1023.5,450.6" fill="none" stroke="#6f279f" stroke-width="1.45" stroke-linejoin="round"/><rect x="916.1" y="482.7" width="2.6" height="2.6" fill="#30104a"/><rect x="951.3" y="474.7" width="2.6" height="2.6" fill="#30104a"/><rect x="986.7" y="462" width="2.6" height="2.6" fill="#30104a"/><rect x="1022.2" y="449.3" width="2.6" height="2.6" fill="#30104a"/>
<rect x="1026.4" y="389.7" width="38.1" height="69.3" fill="#fff" stroke="#777" stroke-width="0.7"/><path d="M1027 395.3h18.4" stroke="#1c1c1c" stroke-width="1.4"/><rect x="1035.6" y="394" width="2.6" height="2.6" fill="#8fb8d8"/><text x="1047" y="398.1" font-size="7.7" fill="#2a2a2a" letter-spacing="-0.15">20<tspan font-size="4.6" dy="-2.6">o</tspan><tspan dy="2.6">C</tspan></text><path d="M1027 404.8h18.4" stroke="#d83a28" stroke-width="1.4" stroke-dasharray="8 2.4"/><text x="1047" y="407.6" font-size="7.7" fill="#2a2a2a" letter-spacing="-0.15">30<tspan font-size="4.6" dy="-2.6">o</tspan><tspan dy="2.6">C</tspan></text><path d="M1027 414.6h18.4" stroke="#2a35b4" stroke-width="1.4"/><rect x="1035.6" y="413.3" width="2.6" height="2.6" fill="#6aa0dc"/><text x="1047" y="417.4" font-size="7.7" fill="#2a2a2a" letter-spacing="-0.15">40<tspan font-size="4.6" dy="-2.6">o</tspan><tspan dy="2.6">C</tspan></text><path d="M1027 424.3h18.4" stroke="#d844cc" stroke-width="1.4" stroke-dasharray="8 2.4"/><text x="1047" y="427.1" font-size="7.7" fill="#2a2a2a" letter-spacing="-0.15">50<tspan font-size="4.6" dy="-2.6">o</tspan><tspan dy="2.6">C</tspan></text><path d="M1027 433.8h18.4" stroke="#2e7f33" stroke-width="1.4" stroke-dasharray="8 2.4"/><text x="1047" y="436.6" font-size="7.7" fill="#2a2a2a" letter-spacing="-0.15">60<tspan font-size="4.6" dy="-2.6">o</tspan><tspan dy="2.6">C</tspan></text><path d="M1027 443.5h18.4" stroke="#1a1a6c" stroke-width="1.4" stroke-dasharray="8 2.4"/><text x="1047" y="446.3" font-size="7.7" fill="#2a2a2a" letter-spacing="-0.15">70<tspan font-size="4.6" dy="-2.6">o</tspan><tspan dy="2.6">C</tspan></text><path d="M1027 453.6h18.4" stroke="#6f279f" stroke-width="1.4"/><rect x="1035.6" y="452.3" width="2.6" height="2.6" fill="#30104a"/><text x="1047" y="456.4" font-size="7.7" fill="#2a2a2a" letter-spacing="-0.15">80<tspan font-size="4.6" dy="-2.6">o</tspan><tspan dy="2.6">C</tspan></text>
</svg>
<div class="abs cap" style="left:101px;top:518px">空间交叉布置</div>
<div class="abs cap" style="left:347px;top:567.3px">单双声道低、高流速测量对比</div>
<div class="abs cap" style="left:701.5px;top:565px">低流速测量结果</div>
<div class="abs cap" style="left:905px;top:564px">高流速测量结果</div>
<div class="abs" id="wm" style="left:901.5px;top:569px;font-family:'Liberation Sans',sans-serif;font-weight:normal;-webkit-text-stroke:0.45px #0a0a0a;font-size:14.2px;line-height:20px;color:#0a0a0a;transform:scaleX(1.27);transform-origin:0 0;text-shadow:1px 1px 0 #ffc4d4,-1px -1px 0 #fff6b0">ybx8.cn</div>
<div class="abs" style="left:1016px;top:589.5px;width:64px;height:20px;background:#1271d8"></div>
<div class="abs" style="left:1032.8px;top:587.6px;font-size:15.2px;line-height:19px;font-weight:bold;color:#fff">18/53</div>
</body></html>
